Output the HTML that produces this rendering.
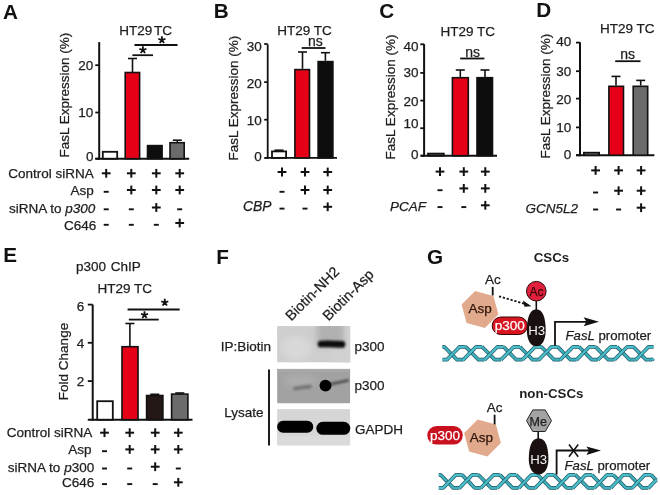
<!DOCTYPE html>
<html><head><meta charset="utf-8"><style>
html,body{margin:0;padding:0;background:#fff;}
svg{display:block;font-family:"Liberation Sans", sans-serif;will-change:transform;}
</style></head><body>
<svg width="660" height="495" viewBox="0 0 660 495">
<rect width="660" height="495" fill="#fff"/>
<text x="3" y="18.7" font-size="20.7" text-anchor="start" font-weight="bold" font-style="normal" fill="#111" stroke="#111" stroke-width="0" >A</text>
<text x="213.7" y="18.4" font-size="20.7" text-anchor="start" font-weight="bold" font-style="normal" fill="#111" stroke="#111" stroke-width="0" >B</text>
<text x="379.2" y="18.3" font-size="20.7" text-anchor="start" font-weight="bold" font-style="normal" fill="#111" stroke="#111" stroke-width="0" >C</text>
<text x="536.2" y="16.5" font-size="20.7" text-anchor="start" font-weight="bold" font-style="normal" fill="#111" stroke="#111" stroke-width="0" >D</text>
<text x="3.3" y="261.9" font-size="20.7" text-anchor="start" font-weight="bold" font-style="normal" fill="#111" stroke="#111" stroke-width="0" >E</text>
<text x="216.2" y="263.9" font-size="20.7" text-anchor="start" font-weight="bold" font-style="normal" fill="#111" stroke="#111" stroke-width="0" >F</text>
<text x="426.9" y="263.5" font-size="20.7" text-anchor="start" font-weight="bold" font-style="normal" fill="#111" stroke="#111" stroke-width="0" >G</text>
<line x1="99.2" y1="42.1" x2="99.2" y2="159.7" stroke="#111" stroke-width="2"/>
<line x1="95.3" y1="158.7" x2="189.2" y2="158.7" stroke="#111" stroke-width="2"/>
<line x1="95.3" y1="65.2" x2="99.2" y2="65.2" stroke="#111" stroke-width="1.8"/>
<text x="93.4" y="69.6" font-size="13.5" text-anchor="end" font-weight="normal" font-style="normal" fill="#1e1e1e" stroke="#1e1e1e" stroke-width="0.25" >20</text>
<line x1="95.3" y1="112.5" x2="99.2" y2="112.5" stroke="#111" stroke-width="1.8"/>
<text x="93.4" y="117.1" font-size="13.5" text-anchor="end" font-weight="normal" font-style="normal" fill="#1e1e1e" stroke="#1e1e1e" stroke-width="0.25" >10</text>
<line x1="95.3" y1="158.7" x2="99.2" y2="158.7" stroke="#111" stroke-width="1.8"/>
<text x="93.4" y="161.1" font-size="13.5" text-anchor="end" font-weight="normal" font-style="normal" fill="#1e1e1e" stroke="#1e1e1e" stroke-width="0.25" >0</text>
<rect x="102.80" y="151.80" width="14.40" height="6.90" fill="#fff" stroke="#111" stroke-width="1.8"/>
<line x1="132.5" y1="58.5" x2="132.5" y2="72" stroke="#111" stroke-width="1.6"/>
<line x1="128.0" y1="58.5" x2="137.0" y2="58.5" stroke="#111" stroke-width="1.6"/>
<rect x="125.20" y="72.50" width="14.40" height="86.20" fill="#e50018" stroke="#111" stroke-width="1.6"/>
<rect x="147.50" y="145.60" width="14.60" height="13.10" fill="#0d0d0d" stroke="#111" stroke-width="1.6"/>
<line x1="177.3" y1="140.2" x2="177.3" y2="142" stroke="#111" stroke-width="1.6"/>
<line x1="172.8" y1="140.2" x2="181.8" y2="140.2" stroke="#111" stroke-width="1.6"/>
<rect x="170.00" y="142.70" width="14.20" height="16.00" fill="#6b6b6b" stroke="#111" stroke-width="1.6"/>
<line x1="134.5" y1="45" x2="177.5" y2="45" stroke="#111" stroke-width="1.8"/>
<line x1="132.4" y1="55.2" x2="153" y2="55.2" stroke="#111" stroke-width="1.8"/>
<path d="M161.90,40.00 L161.90,36.30 M161.90,40.00 L165.42,38.86 M161.90,40.00 L164.07,42.99 M161.90,40.00 L159.73,42.99 M161.90,40.00 L158.38,38.86 " stroke="#111" stroke-width="1.8" fill="none" stroke-linecap="butt"/>
<path d="M142.90,50.00 L142.90,46.30 M142.90,50.00 L146.42,48.86 M142.90,50.00 L145.07,52.99 M142.90,50.00 L140.73,52.99 M142.90,50.00 L139.38,48.86 " stroke="#111" stroke-width="1.8" fill="none" stroke-linecap="butt"/>
<text x="119.2" y="35.3" font-size="13.5" text-anchor="start" font-weight="normal" font-style="normal" fill="#1e1e1e" stroke="#1e1e1e" stroke-width="0.25" >HT29</text>
<text x="172" y="35.3" font-size="13.5" text-anchor="end" font-weight="normal" font-style="normal" fill="#1e1e1e" stroke="#1e1e1e" stroke-width="0.25" >TC</text>
<text x="0" y="0" font-size="13.5" text-anchor="middle" fill="#1e1e1e" stroke="#1e1e1e" stroke-width="0.25" transform="translate(69,95.2) rotate(-90)">FasL Expression (%)</text>
<text x="93.7" y="177.8" font-size="13.5" text-anchor="end" font-weight="normal" font-style="normal" fill="#1e1e1e" stroke="#1e1e1e" stroke-width="0.25" >Control siRNA</text>
<text x="93.7" y="194.7" font-size="13.5" text-anchor="end" font-weight="normal" font-style="normal" fill="#1e1e1e" stroke="#1e1e1e" stroke-width="0.25" >Asp</text>
<text x="96.3" y="229.5" font-size="13.5" text-anchor="end" font-weight="normal" font-style="normal" fill="#1e1e1e" stroke="#1e1e1e" stroke-width="0.25" >C646</text>
<text x="95.3" y="213.3" font-size="13.5" text-anchor="end" font-weight="normal" font-style="normal" fill="#1e1e1e" stroke="#1e1e1e" stroke-width="0.25" >siRNA to <tspan font-style="italic">p300</tspan></text>
<line x1="101.8" y1="173.3" x2="110.60000000000001" y2="173.3" stroke="#111" stroke-width="2.0"/>
<line x1="106.2" y1="168.9" x2="106.2" y2="177.70000000000002" stroke="#111" stroke-width="2.0"/>
<line x1="126.9" y1="173.3" x2="135.70000000000002" y2="173.3" stroke="#111" stroke-width="2.0"/>
<line x1="131.3" y1="168.9" x2="131.3" y2="177.70000000000002" stroke="#111" stroke-width="2.0"/>
<line x1="151.9" y1="173.3" x2="160.70000000000002" y2="173.3" stroke="#111" stroke-width="2.0"/>
<line x1="156.3" y1="168.9" x2="156.3" y2="177.70000000000002" stroke="#111" stroke-width="2.0"/>
<line x1="175.29999999999998" y1="173.3" x2="184.1" y2="173.3" stroke="#111" stroke-width="2.0"/>
<line x1="179.7" y1="168.9" x2="179.7" y2="177.70000000000002" stroke="#111" stroke-width="2.0"/>
<line x1="103.7" y1="191.8" x2="108.7" y2="191.8" stroke="#111" stroke-width="1.9"/>
<line x1="126.9" y1="190" x2="135.70000000000002" y2="190" stroke="#111" stroke-width="2.0"/>
<line x1="131.3" y1="185.6" x2="131.3" y2="194.4" stroke="#111" stroke-width="2.0"/>
<line x1="151.9" y1="190" x2="160.70000000000002" y2="190" stroke="#111" stroke-width="2.0"/>
<line x1="156.3" y1="185.6" x2="156.3" y2="194.4" stroke="#111" stroke-width="2.0"/>
<line x1="175.29999999999998" y1="190" x2="184.1" y2="190" stroke="#111" stroke-width="2.0"/>
<line x1="179.7" y1="185.6" x2="179.7" y2="194.4" stroke="#111" stroke-width="2.0"/>
<line x1="103.7" y1="209.3" x2="108.7" y2="209.3" stroke="#111" stroke-width="1.9"/>
<line x1="128.8" y1="209.3" x2="133.8" y2="209.3" stroke="#111" stroke-width="1.9"/>
<line x1="151.9" y1="207.5" x2="160.70000000000002" y2="207.5" stroke="#111" stroke-width="2.0"/>
<line x1="156.3" y1="203.1" x2="156.3" y2="211.9" stroke="#111" stroke-width="2.0"/>
<line x1="177.2" y1="209.3" x2="182.2" y2="209.3" stroke="#111" stroke-width="1.9"/>
<line x1="103.7" y1="224.8" x2="108.7" y2="224.8" stroke="#111" stroke-width="1.9"/>
<line x1="128.8" y1="224.8" x2="133.8" y2="224.8" stroke="#111" stroke-width="1.9"/>
<line x1="153.8" y1="224.8" x2="158.8" y2="224.8" stroke="#111" stroke-width="1.9"/>
<line x1="175.29999999999998" y1="223" x2="184.1" y2="223" stroke="#111" stroke-width="2.0"/>
<line x1="179.7" y1="218.6" x2="179.7" y2="227.4" stroke="#111" stroke-width="2.0"/>
<line x1="267.7" y1="44.3" x2="267.7" y2="158.70000000000002" stroke="#111" stroke-width="1.8"/>
<line x1="265" y1="157.9" x2="337" y2="157.9" stroke="#111" stroke-width="1.8"/>
<line x1="264.2" y1="44" x2="267.7" y2="44" stroke="#111" stroke-width="1.8"/>
<text x="261.8" y="50.9" font-size="13.5" text-anchor="end" font-weight="normal" font-style="normal" fill="#1e1e1e" stroke="#1e1e1e" stroke-width="0.25" >30</text>
<line x1="264.2" y1="82.1" x2="267.7" y2="82.1" stroke="#111" stroke-width="1.8"/>
<text x="261.8" y="87.9" font-size="13.5" text-anchor="end" font-weight="normal" font-style="normal" fill="#1e1e1e" stroke="#1e1e1e" stroke-width="0.25" >20</text>
<line x1="264.2" y1="119.7" x2="267.7" y2="119.7" stroke="#111" stroke-width="1.8"/>
<text x="261.8" y="124.8" font-size="13.5" text-anchor="end" font-weight="normal" font-style="normal" fill="#1e1e1e" stroke="#1e1e1e" stroke-width="0.25" >10</text>
<line x1="264.2" y1="157.9" x2="267.7" y2="157.9" stroke="#111" stroke-width="1.8"/>
<text x="261.8" y="161" font-size="13.5" text-anchor="end" font-weight="normal" font-style="normal" fill="#1e1e1e" stroke="#1e1e1e" stroke-width="0.25" >0</text>
<line x1="279" y1="150.2" x2="279" y2="151" stroke="#111" stroke-width="1.6"/>
<line x1="274.5" y1="150.2" x2="283.5" y2="150.2" stroke="#111" stroke-width="1.6"/>
<rect x="272.00" y="151.40" width="14.10" height="6.50" fill="#fff" stroke="#111" stroke-width="1.8"/>
<line x1="302.5" y1="52" x2="302.5" y2="68.8" stroke="#111" stroke-width="1.6"/>
<line x1="298.0" y1="52" x2="307.0" y2="52" stroke="#111" stroke-width="1.6"/>
<rect x="294.90" y="69.60" width="14.60" height="88.30" fill="#e50018" stroke="#111" stroke-width="1.6"/>
<line x1="325.4" y1="52.7" x2="325.4" y2="60.8" stroke="#111" stroke-width="1.6"/>
<line x1="320.9" y1="52.7" x2="329.9" y2="52.7" stroke="#111" stroke-width="1.6"/>
<rect x="318.10" y="61.60" width="14.80" height="96.30" fill="#0d0d0d" stroke="#111" stroke-width="1.6"/>
<text x="315.4" y="45.6" font-size="14" text-anchor="middle" font-weight="normal" font-style="normal" fill="#1e1e1e" stroke="#1e1e1e" stroke-width="0.25" >ns</text>
<line x1="301.7" y1="48" x2="325.5" y2="48" stroke="#111" stroke-width="1.8"/>
<text x="277.2" y="35.3" font-size="13.5" text-anchor="start" font-weight="normal" font-style="normal" fill="#1e1e1e" stroke="#1e1e1e" stroke-width="0.25" >HT29 TC</text>
<text x="0" y="0" font-size="13.5" text-anchor="middle" fill="#1e1e1e" stroke="#1e1e1e" stroke-width="0.25" transform="translate(238.3,98.2) rotate(-90)">FasL Expression (%)</text>
<line x1="277.6" y1="172" x2="286.4" y2="172" stroke="#111" stroke-width="2.0"/>
<line x1="282" y1="167.6" x2="282" y2="176.4" stroke="#111" stroke-width="2.0"/>
<line x1="300.6" y1="172" x2="309.4" y2="172" stroke="#111" stroke-width="2.0"/>
<line x1="305" y1="167.6" x2="305" y2="176.4" stroke="#111" stroke-width="2.0"/>
<line x1="323.3" y1="172" x2="332.09999999999997" y2="172" stroke="#111" stroke-width="2.0"/>
<line x1="327.7" y1="167.6" x2="327.7" y2="176.4" stroke="#111" stroke-width="2.0"/>
<line x1="279.5" y1="191.8" x2="284.5" y2="191.8" stroke="#111" stroke-width="1.9"/>
<line x1="300.6" y1="190" x2="309.4" y2="190" stroke="#111" stroke-width="2.0"/>
<line x1="305" y1="185.6" x2="305" y2="194.4" stroke="#111" stroke-width="2.0"/>
<line x1="323.3" y1="190" x2="332.09999999999997" y2="190" stroke="#111" stroke-width="2.0"/>
<line x1="327.7" y1="185.6" x2="327.7" y2="194.4" stroke="#111" stroke-width="2.0"/>
<line x1="279.5" y1="208.60000000000002" x2="284.5" y2="208.60000000000002" stroke="#111" stroke-width="1.9"/>
<line x1="302.5" y1="208.60000000000002" x2="307.5" y2="208.60000000000002" stroke="#111" stroke-width="1.9"/>
<line x1="323.3" y1="206.8" x2="332.09999999999997" y2="206.8" stroke="#111" stroke-width="2.0"/>
<line x1="327.7" y1="202.4" x2="327.7" y2="211.20000000000002" stroke="#111" stroke-width="2.0"/>
<text x="271.5" y="210.5" font-size="13.9" text-anchor="end" font-weight="normal" font-style="italic" fill="#1e1e1e" stroke="#1e1e1e" stroke-width="0.25" >CBP</text>
<line x1="424.1" y1="44.1" x2="424.1" y2="156.7" stroke="#111" stroke-width="2"/>
<line x1="420.8" y1="155.7" x2="497" y2="155.7" stroke="#111" stroke-width="2"/>
<line x1="420.3" y1="44.3" x2="424.1" y2="44.3" stroke="#111" stroke-width="1.8"/>
<text x="418.5" y="50.5" font-size="13.5" text-anchor="end" font-weight="normal" font-style="normal" fill="#1e1e1e" stroke="#1e1e1e" stroke-width="0.25" >40</text>
<line x1="420.3" y1="72.9" x2="424.1" y2="72.9" stroke="#111" stroke-width="1.8"/>
<text x="418.5" y="77.4" font-size="13.5" text-anchor="end" font-weight="normal" font-style="normal" fill="#1e1e1e" stroke="#1e1e1e" stroke-width="0.25" >30</text>
<line x1="420.3" y1="100.6" x2="424.1" y2="100.6" stroke="#111" stroke-width="1.8"/>
<text x="418.5" y="105.5" font-size="13.5" text-anchor="end" font-weight="normal" font-style="normal" fill="#1e1e1e" stroke="#1e1e1e" stroke-width="0.25" >20</text>
<line x1="420.3" y1="128.2" x2="424.1" y2="128.2" stroke="#111" stroke-width="1.8"/>
<text x="418.5" y="128.2" font-size="13.5" text-anchor="end" font-weight="normal" font-style="normal" fill="#1e1e1e" stroke="#1e1e1e" stroke-width="0.25" >10</text>
<line x1="420.3" y1="155.7" x2="424.1" y2="155.7" stroke="#111" stroke-width="1.8"/>
<text x="418.5" y="158.9" font-size="13.5" text-anchor="end" font-weight="normal" font-style="normal" fill="#1e1e1e" stroke="#1e1e1e" stroke-width="0.25" >0</text>
<rect x="428.00" y="153.60" width="15.80" height="2.10" fill="#8a8a8a" stroke="#111" stroke-width="1.8"/>
<line x1="460.3" y1="70" x2="460.3" y2="76.9" stroke="#111" stroke-width="1.6"/>
<line x1="455.8" y1="70" x2="464.8" y2="70" stroke="#111" stroke-width="1.6"/>
<rect x="452.40" y="77.70" width="15.90" height="78.00" fill="#e50018" stroke="#111" stroke-width="1.6"/>
<line x1="485" y1="70" x2="485" y2="76.9" stroke="#111" stroke-width="1.6"/>
<line x1="480.5" y1="70" x2="489.5" y2="70" stroke="#111" stroke-width="1.6"/>
<rect x="477.00" y="77.70" width="15.50" height="78.00" fill="#0d0d0d" stroke="#111" stroke-width="1.6"/>
<text x="472.6" y="56.7" font-size="14" text-anchor="middle" font-weight="normal" font-style="normal" fill="#1e1e1e" stroke="#1e1e1e" stroke-width="0.25" >ns</text>
<line x1="460.2" y1="58.5" x2="484.4" y2="58.5" stroke="#111" stroke-width="1.8"/>
<text x="440.6" y="36.2" font-size="13.5" text-anchor="start" font-weight="normal" font-style="normal" fill="#1e1e1e" stroke="#1e1e1e" stroke-width="0.25" >HT29 TC</text>
<text x="0" y="0" font-size="13.5" text-anchor="middle" fill="#1e1e1e" stroke="#1e1e1e" stroke-width="0.25" transform="translate(395.1,97) rotate(-90)">FasL Expression (%)</text>
<line x1="435.6" y1="171.6" x2="444.4" y2="171.6" stroke="#111" stroke-width="2.0"/>
<line x1="440" y1="167.2" x2="440" y2="176.0" stroke="#111" stroke-width="2.0"/>
<line x1="459.40000000000003" y1="171.6" x2="468.2" y2="171.6" stroke="#111" stroke-width="2.0"/>
<line x1="463.8" y1="167.2" x2="463.8" y2="176.0" stroke="#111" stroke-width="2.0"/>
<line x1="480.90000000000003" y1="171.6" x2="489.7" y2="171.6" stroke="#111" stroke-width="2.0"/>
<line x1="485.3" y1="167.2" x2="485.3" y2="176.0" stroke="#111" stroke-width="2.0"/>
<line x1="437.5" y1="190.20000000000002" x2="442.5" y2="190.20000000000002" stroke="#111" stroke-width="1.9"/>
<line x1="459.40000000000003" y1="188.4" x2="468.2" y2="188.4" stroke="#111" stroke-width="2.0"/>
<line x1="463.8" y1="184.0" x2="463.8" y2="192.8" stroke="#111" stroke-width="2.0"/>
<line x1="480.90000000000003" y1="188.4" x2="489.7" y2="188.4" stroke="#111" stroke-width="2.0"/>
<line x1="485.3" y1="184.0" x2="485.3" y2="192.8" stroke="#111" stroke-width="2.0"/>
<line x1="437.5" y1="207.10000000000002" x2="442.5" y2="207.10000000000002" stroke="#111" stroke-width="1.9"/>
<line x1="461.3" y1="207.10000000000002" x2="466.3" y2="207.10000000000002" stroke="#111" stroke-width="1.9"/>
<line x1="480.90000000000003" y1="205.3" x2="489.7" y2="205.3" stroke="#111" stroke-width="2.0"/>
<line x1="485.3" y1="200.9" x2="485.3" y2="209.70000000000002" stroke="#111" stroke-width="2.0"/>
<text x="426" y="210.9" font-size="13.5" text-anchor="end" font-weight="normal" font-style="italic" fill="#1e1e1e" stroke="#1e1e1e" stroke-width="0.25" >PCAF</text>
<line x1="580" y1="42.3" x2="580" y2="156.2" stroke="#111" stroke-width="2"/>
<line x1="576" y1="155.2" x2="654.4" y2="155.2" stroke="#111" stroke-width="2"/>
<line x1="576" y1="42.6" x2="580" y2="42.6" stroke="#111" stroke-width="1.8"/>
<text x="571.2" y="46.4" font-size="13.5" text-anchor="end" font-weight="normal" font-style="normal" fill="#1e1e1e" stroke="#1e1e1e" stroke-width="0.25" >40</text>
<line x1="576" y1="71.2" x2="580" y2="71.2" stroke="#111" stroke-width="1.8"/>
<text x="571.2" y="76.3" font-size="13.5" text-anchor="end" font-weight="normal" font-style="normal" fill="#1e1e1e" stroke="#1e1e1e" stroke-width="0.25" >30</text>
<line x1="576" y1="98.6" x2="580" y2="98.6" stroke="#111" stroke-width="1.8"/>
<text x="571.2" y="104.3" font-size="13.5" text-anchor="end" font-weight="normal" font-style="normal" fill="#1e1e1e" stroke="#1e1e1e" stroke-width="0.25" >20</text>
<line x1="576" y1="127.4" x2="580" y2="127.4" stroke="#111" stroke-width="1.8"/>
<text x="571.2" y="131.7" font-size="13.5" text-anchor="end" font-weight="normal" font-style="normal" fill="#1e1e1e" stroke="#1e1e1e" stroke-width="0.25" >10</text>
<line x1="576" y1="155.2" x2="580" y2="155.2" stroke="#111" stroke-width="1.8"/>
<text x="571.2" y="159.2" font-size="13.5" text-anchor="end" font-weight="normal" font-style="normal" fill="#1e1e1e" stroke="#1e1e1e" stroke-width="0.25" >0</text>
<rect x="583.90" y="152.70" width="15.20" height="2.50" fill="#8a8a8a" stroke="#111" stroke-width="1.8"/>
<line x1="616" y1="76.4" x2="616" y2="85.5" stroke="#111" stroke-width="1.6"/>
<line x1="611.5" y1="76.4" x2="620.5" y2="76.4" stroke="#111" stroke-width="1.6"/>
<rect x="608.90" y="86.30" width="14.60" height="68.90" fill="#e50018" stroke="#111" stroke-width="1.6"/>
<line x1="640.7" y1="80.4" x2="640.7" y2="85.5" stroke="#111" stroke-width="1.6"/>
<line x1="636.2" y1="80.4" x2="645.2" y2="80.4" stroke="#111" stroke-width="1.6"/>
<rect x="633.20" y="86.30" width="14.50" height="68.90" fill="#6b6b6b" stroke="#111" stroke-width="1.6"/>
<text x="627.6" y="58.7" font-size="14" text-anchor="middle" font-weight="normal" font-style="normal" fill="#1e1e1e" stroke="#1e1e1e" stroke-width="0.25" >ns</text>
<line x1="615.2" y1="61.2" x2="640.5" y2="61.2" stroke="#111" stroke-width="1.8"/>
<text x="600" y="32.5" font-size="13.5" text-anchor="start" font-weight="normal" font-style="normal" fill="#1e1e1e" stroke="#1e1e1e" stroke-width="0.25" >HT29 TC</text>
<text x="0" y="0" font-size="13.5" text-anchor="middle" fill="#1e1e1e" stroke="#1e1e1e" stroke-width="0.25" transform="translate(550.1,96.1) rotate(-90)">FasL Expression (%)</text>
<line x1="591.2" y1="170.4" x2="600.0" y2="170.4" stroke="#111" stroke-width="2.0"/>
<line x1="595.6" y1="166.0" x2="595.6" y2="174.8" stroke="#111" stroke-width="2.0"/>
<line x1="614.2" y1="170.4" x2="623.0" y2="170.4" stroke="#111" stroke-width="2.0"/>
<line x1="618.6" y1="166.0" x2="618.6" y2="174.8" stroke="#111" stroke-width="2.0"/>
<line x1="636.7" y1="170.4" x2="645.5" y2="170.4" stroke="#111" stroke-width="2.0"/>
<line x1="641.1" y1="166.0" x2="641.1" y2="174.8" stroke="#111" stroke-width="2.0"/>
<line x1="593.1" y1="192.5" x2="598.1" y2="192.5" stroke="#111" stroke-width="1.9"/>
<line x1="614.2" y1="190.7" x2="623.0" y2="190.7" stroke="#111" stroke-width="2.0"/>
<line x1="618.6" y1="186.29999999999998" x2="618.6" y2="195.1" stroke="#111" stroke-width="2.0"/>
<line x1="636.7" y1="190.7" x2="645.5" y2="190.7" stroke="#111" stroke-width="2.0"/>
<line x1="641.1" y1="186.29999999999998" x2="641.1" y2="195.1" stroke="#111" stroke-width="2.0"/>
<line x1="593.1" y1="209.5" x2="598.1" y2="209.5" stroke="#111" stroke-width="1.9"/>
<line x1="616.1" y1="209.5" x2="621.1" y2="209.5" stroke="#111" stroke-width="1.9"/>
<line x1="636.7" y1="207.7" x2="645.5" y2="207.7" stroke="#111" stroke-width="2.0"/>
<line x1="641.1" y1="203.29999999999998" x2="641.1" y2="212.1" stroke="#111" stroke-width="2.0"/>
<text x="578.1" y="213.2" font-size="13.5" text-anchor="end" font-weight="normal" font-style="italic" fill="#1e1e1e" stroke="#1e1e1e" stroke-width="0.25" >GCN5L2</text>
<line x1="92.7" y1="304.6" x2="92.7" y2="420.7" stroke="#111" stroke-width="2"/>
<line x1="87.8" y1="419.7" x2="192.5" y2="419.7" stroke="#111" stroke-width="2"/>
<line x1="87.8" y1="304.6" x2="92.7" y2="304.6" stroke="#111" stroke-width="1.8"/>
<text x="84.3" y="310.7" font-size="13.5" text-anchor="end" font-weight="normal" font-style="normal" fill="#1e1e1e" stroke="#1e1e1e" stroke-width="0.25" >6</text>
<line x1="87.8" y1="342.8" x2="92.7" y2="342.8" stroke="#111" stroke-width="1.8"/>
<text x="84.3" y="347.9" font-size="13.5" text-anchor="end" font-weight="normal" font-style="normal" fill="#1e1e1e" stroke="#1e1e1e" stroke-width="0.25" >4</text>
<line x1="87.8" y1="381.1" x2="92.7" y2="381.1" stroke="#111" stroke-width="1.8"/>
<text x="84.3" y="385.6" font-size="13.5" text-anchor="end" font-weight="normal" font-style="normal" fill="#1e1e1e" stroke="#1e1e1e" stroke-width="0.25" >2</text>
<rect x="97.20" y="401.20" width="15.60" height="18.50" fill="#fff" stroke="#111" stroke-width="1.8"/>
<line x1="129.9" y1="323.5" x2="129.9" y2="346" stroke="#111" stroke-width="1.6"/>
<line x1="125.4" y1="323.5" x2="134.4" y2="323.5" stroke="#111" stroke-width="1.6"/>
<rect x="122.00" y="346.70" width="16.00" height="73.00" fill="#e50018" stroke="#111" stroke-width="1.6"/>
<line x1="154.8" y1="394.3" x2="154.8" y2="395.8" stroke="#111" stroke-width="1.6"/>
<line x1="150.3" y1="394.3" x2="159.3" y2="394.3" stroke="#111" stroke-width="1.6"/>
<rect x="146.60" y="395.50" width="16.30" height="24.20" fill="#231815" stroke="#111" stroke-width="1.6"/>
<line x1="179.8" y1="393" x2="179.8" y2="394.5" stroke="#111" stroke-width="1.6"/>
<line x1="175.3" y1="393" x2="184.3" y2="393" stroke="#111" stroke-width="1.6"/>
<rect x="171.60" y="394.10" width="16.30" height="25.60" fill="#6b6b6b" stroke="#111" stroke-width="1.6"/>
<line x1="127.6" y1="309.5" x2="179.7" y2="309.5" stroke="#111" stroke-width="1.8"/>
<line x1="128.8" y1="319.6" x2="158.7" y2="319.6" stroke="#111" stroke-width="1.8"/>
<path d="M164.80,302.50 L164.80,298.80 M164.80,302.50 L168.32,301.36 M164.80,302.50 L166.97,305.49 M164.80,302.50 L162.63,305.49 M164.80,302.50 L161.28,301.36 " stroke="#111" stroke-width="1.8" fill="none" stroke-linecap="butt"/>
<path d="M144.50,315.00 L144.50,311.30 M144.50,315.00 L148.02,313.86 M144.50,315.00 L146.67,317.99 M144.50,315.00 L142.33,317.99 M144.50,315.00 L140.98,313.86 " stroke="#111" stroke-width="1.8" fill="none" stroke-linecap="butt"/>
<text x="76" y="270.7" font-size="13.5" text-anchor="start" font-weight="normal" font-style="normal" fill="#1e1e1e" stroke="#1e1e1e" stroke-width="0.25" >p300</text>
<text x="110.8" y="270.7" font-size="13.5" text-anchor="start" font-weight="normal" font-style="normal" fill="#1e1e1e" stroke="#1e1e1e" stroke-width="0.25" >ChIP</text>
<text x="97.6" y="293.2" font-size="13.5" text-anchor="start" font-weight="normal" font-style="normal" fill="#1e1e1e" stroke="#1e1e1e" stroke-width="0.25" >HT29 TC</text>
<text x="0" y="0" font-size="13.5" text-anchor="middle" fill="#1e1e1e" stroke="#1e1e1e" stroke-width="0.25" transform="translate(68.3,361.5) rotate(-90)">Fold Change</text>
<text x="92.2" y="437" font-size="13.5" text-anchor="end" font-weight="normal" font-style="normal" fill="#1e1e1e" stroke="#1e1e1e" stroke-width="0.25" >Control siRNA</text>
<text x="91.5" y="453.6" font-size="13.5" text-anchor="end" font-weight="normal" font-style="normal" fill="#1e1e1e" stroke="#1e1e1e" stroke-width="0.25" >Asp</text>
<text x="94.2" y="472.3" font-size="13.5" text-anchor="end" font-weight="normal" font-style="normal" fill="#1e1e1e" stroke="#1e1e1e" stroke-width="0.25" >siRNA to <tspan font-style="italic">p</tspan>300</text>
<text x="94.4" y="487.4" font-size="13.5" text-anchor="end" font-weight="normal" font-style="normal" fill="#1e1e1e" stroke="#1e1e1e" stroke-width="0.25" >C646</text>
<line x1="100.1" y1="432.7" x2="108.9" y2="432.7" stroke="#111" stroke-width="2.0"/>
<line x1="104.5" y1="428.3" x2="104.5" y2="437.09999999999997" stroke="#111" stroke-width="2.0"/>
<line x1="125.29999999999998" y1="432.7" x2="134.1" y2="432.7" stroke="#111" stroke-width="2.0"/>
<line x1="129.7" y1="428.3" x2="129.7" y2="437.09999999999997" stroke="#111" stroke-width="2.0"/>
<line x1="150.79999999999998" y1="432.7" x2="159.6" y2="432.7" stroke="#111" stroke-width="2.0"/>
<line x1="155.2" y1="428.3" x2="155.2" y2="437.09999999999997" stroke="#111" stroke-width="2.0"/>
<line x1="173.9" y1="432.7" x2="182.70000000000002" y2="432.7" stroke="#111" stroke-width="2.0"/>
<line x1="178.3" y1="428.3" x2="178.3" y2="437.09999999999997" stroke="#111" stroke-width="2.0"/>
<line x1="102.0" y1="451.2" x2="107.0" y2="451.2" stroke="#111" stroke-width="1.9"/>
<line x1="125.29999999999998" y1="449.4" x2="134.1" y2="449.4" stroke="#111" stroke-width="2.0"/>
<line x1="129.7" y1="445.0" x2="129.7" y2="453.79999999999995" stroke="#111" stroke-width="2.0"/>
<line x1="150.79999999999998" y1="449.4" x2="159.6" y2="449.4" stroke="#111" stroke-width="2.0"/>
<line x1="155.2" y1="445.0" x2="155.2" y2="453.79999999999995" stroke="#111" stroke-width="2.0"/>
<line x1="173.9" y1="449.4" x2="182.70000000000002" y2="449.4" stroke="#111" stroke-width="2.0"/>
<line x1="178.3" y1="445.0" x2="178.3" y2="453.79999999999995" stroke="#111" stroke-width="2.0"/>
<line x1="102.0" y1="468.5" x2="107.0" y2="468.5" stroke="#111" stroke-width="1.9"/>
<line x1="127.19999999999999" y1="468.5" x2="132.2" y2="468.5" stroke="#111" stroke-width="1.9"/>
<line x1="150.79999999999998" y1="466.7" x2="159.6" y2="466.7" stroke="#111" stroke-width="2.0"/>
<line x1="155.2" y1="462.3" x2="155.2" y2="471.09999999999997" stroke="#111" stroke-width="2.0"/>
<line x1="175.8" y1="468.5" x2="180.8" y2="468.5" stroke="#111" stroke-width="1.9"/>
<line x1="102.0" y1="484.1" x2="107.0" y2="484.1" stroke="#111" stroke-width="1.9"/>
<line x1="127.19999999999999" y1="484.1" x2="132.2" y2="484.1" stroke="#111" stroke-width="1.9"/>
<line x1="152.7" y1="484.1" x2="157.7" y2="484.1" stroke="#111" stroke-width="1.9"/>
<line x1="173.9" y1="482.3" x2="182.70000000000002" y2="482.3" stroke="#111" stroke-width="2.0"/>
<line x1="178.3" y1="477.90000000000003" x2="178.3" y2="486.7" stroke="#111" stroke-width="2.0"/>
<defs><filter id="bl" filterUnits="userSpaceOnUse" x="0" y="0" width="660" height="495"><feGaussianBlur stdDeviation="1.1"/></filter><filter id="bl2" filterUnits="userSpaceOnUse" x="0" y="0" width="660" height="495"><feGaussianBlur stdDeviation="0.7"/></filter><filter id="bl3" filterUnits="userSpaceOnUse" x="0" y="0" width="660" height="495"><feGaussianBlur stdDeviation="3"/></filter><clipPath id="c1"><rect x="277.1" y="326.1" width="73.2" height="36.5"/></clipPath><clipPath id="c2"><rect x="277.1" y="368.8" width="73.2" height="34.7"/></clipPath><clipPath id="c3"><rect x="277.1" y="409.1" width="73.2" height="36.3"/></clipPath></defs>
<g clip-path="url(#c1)"><rect x="277.1" y="326.1" width="73.2" height="36.5" fill="#cecece"/><ellipse cx="296" cy="348" rx="15" ry="12" fill="#d8d8d8" filter="url(#bl3)"/><rect x="317" y="322" width="28" height="24" fill="#b0b0b0" filter="url(#bl3)"/><rect x="346" y="322" width="8" height="45" fill="#d2d2d2" filter="url(#bl3)"/><ellipse cx="340" cy="356" rx="12" ry="6" fill="#d2d2d2" filter="url(#bl3)"/><ellipse cx="281" cy="330" rx="6" ry="5" fill="#d0d0d0" filter="url(#bl3)"/></g>
<path d="M321 344 Q331 343.6 342 344.4" stroke="#0a0a0a" stroke-width="6.6" stroke-linecap="round" fill="none" filter="url(#bl)"/>
<g clip-path="url(#c2)"><rect x="277.1" y="368.8" width="73.2" height="34.7" fill="#a2a2a2"/><ellipse cx="300" cy="381" rx="16" ry="7" fill="#acacac" filter="url(#bl3)"/><rect x="277.1" y="368.8" width="73.2" height="3" fill="#a8a8a8" filter="url(#bl2)"/></g>
<path d="M295 388.5 L310 386.5" stroke="#777" stroke-width="3.8" stroke-linecap="round" fill="none" filter="url(#bl)"/>
<path d="M327 385 L347.5 380.5" stroke="#555" stroke-width="3.0" stroke-linecap="round" fill="none" filter="url(#bl)"/>
<ellipse cx="325.5" cy="385.6" rx="6" ry="5.8" fill="#050505" filter="url(#bl2)"/>
<g clip-path="url(#c3)"><rect x="277.1" y="409.1" width="73.2" height="36.3" fill="#d6d6d6"/><rect x="277.1" y="436" width="73.2" height="10" fill="#dadada" filter="url(#bl2)"/></g>
<rect x="277.1" y="420.8" width="36.2" height="12" rx="6" fill="#060606" filter="url(#bl2)"/>
<rect x="316.3" y="421.8" width="34" height="13" rx="6.5" fill="#060606" filter="url(#bl2)"/>
<line x1="269" y1="369.5" x2="269" y2="445.4" stroke="#111" stroke-width="1.9"/>
<text x="271" y="351.3" font-size="13.5" text-anchor="end" font-weight="normal" font-style="normal" fill="#1e1e1e" stroke="#1e1e1e" stroke-width="0.25" >IP:Biotin</text>
<text x="263.5" y="417" font-size="13.5" text-anchor="end" font-weight="normal" font-style="normal" fill="#1e1e1e" stroke="#1e1e1e" stroke-width="0.25" >Lysate</text>
<text x="354.5" y="351" font-size="13.5" text-anchor="start" font-weight="normal" font-style="normal" fill="#1e1e1e" stroke="#1e1e1e" stroke-width="0.25" >p300</text>
<text x="354.5" y="389.8" font-size="13.5" text-anchor="start" font-weight="normal" font-style="normal" fill="#1e1e1e" stroke="#1e1e1e" stroke-width="0.25" >p300</text>
<text x="355" y="433.5" font-size="13.5" text-anchor="start" font-weight="normal" font-style="normal" fill="#1e1e1e" stroke="#1e1e1e" stroke-width="0.25" >GAPDH</text>
<text x="0" y="0" font-size="14.3" fill="#1e1e1e" stroke="#1e1e1e" stroke-width="0.25" transform="translate(291.3,321.5) rotate(-45)">Biotin-NH2</text>
<text x="0" y="0" font-size="14.3" fill="#1e1e1e" stroke="#1e1e1e" stroke-width="0.25" transform="translate(328.5,321.5) rotate(-45)">Biotin-Asp</text>
<path d="M442.50,346.90 L443.00,346.90 L443.50,346.90 L444.00,346.90 L444.50,347.00 L445.00,347.51 L445.50,348.02 L446.00,348.53 L446.50,349.03 L447.00,349.54 L447.50,350.05 L448.00,350.56 L448.50,351.07 L449.00,351.57 L449.50,352.08 L450.00,352.59 L450.50,353.10 L451.00,353.60 L451.50,354.11 L452.00,354.62 L452.50,355.13 L453.00,355.64 L453.50,356.14 L454.00,356.65 L454.50,357.16 L455.00,357.67 L455.50,358.18 L456.00,358.68 L456.50,359.19 L457.00,359.70 L457.50,359.70 L458.00,359.70 L458.50,359.70 L459.00,359.70 L459.50,359.70 L460.00,359.70 L460.50,359.70 L461.00,359.70 L461.50,359.70 L462.00,359.70 L462.50,359.70 L463.00,359.70" stroke="#1f5a64" stroke-width="3.7" fill="none" stroke-linejoin="round"/>
<path d="M442.50,346.90 L443.00,346.90 L443.50,346.90 L444.00,346.90 L444.50,347.00 L445.00,347.51 L445.50,348.02 L446.00,348.53 L446.50,349.03 L447.00,349.54 L447.50,350.05 L448.00,350.56 L448.50,351.07 L449.00,351.57 L449.50,352.08 L450.00,352.59 L450.50,353.10 L451.00,353.60 L451.50,354.11 L452.00,354.62 L452.50,355.13 L453.00,355.64 L453.50,356.14 L454.00,356.65 L454.50,357.16 L455.00,357.67 L455.50,358.18 L456.00,358.68 L456.50,359.19 L457.00,359.70 L457.50,359.70 L458.00,359.70 L458.50,359.70 L459.00,359.70 L459.50,359.70 L460.00,359.70 L460.50,359.70 L461.00,359.70 L461.50,359.70 L462.00,359.70 L462.50,359.70 L463.00,359.70" stroke="#40b0be" stroke-width="2.3" fill="none" stroke-linejoin="round"/>
<path d="M482.00,346.90 L482.50,347.20 L483.00,347.71 L483.50,348.22 L484.00,348.73 L484.50,349.24 L485.00,349.74 L485.50,350.25 L486.00,350.76 L486.50,351.27 L487.00,351.78 L487.50,352.28 L488.00,352.79 L488.50,353.30 L489.00,353.81 L489.50,354.32 L490.00,354.82 L490.50,355.33 L491.00,355.84 L491.50,356.35 L492.00,356.86 L492.50,357.36 L493.00,357.87 L493.50,358.38 L494.00,358.89 L494.50,359.40 L495.00,359.70 L495.50,359.70 L496.00,359.70 L496.50,359.70 L497.00,359.70 L497.50,359.70 L498.00,359.70 L498.50,359.70 L499.00,359.70 L499.50,359.70 L500.00,359.70 L500.50,359.70 L501.00,359.70" stroke="#1f5a64" stroke-width="3.7" fill="none" stroke-linejoin="round"/>
<path d="M482.00,346.90 L482.50,347.20 L483.00,347.71 L483.50,348.22 L484.00,348.73 L484.50,349.24 L485.00,349.74 L485.50,350.25 L486.00,350.76 L486.50,351.27 L487.00,351.78 L487.50,352.28 L488.00,352.79 L488.50,353.30 L489.00,353.81 L489.50,354.32 L490.00,354.82 L490.50,355.33 L491.00,355.84 L491.50,356.35 L492.00,356.86 L492.50,357.36 L493.00,357.87 L493.50,358.38 L494.00,358.89 L494.50,359.40 L495.00,359.70 L495.50,359.70 L496.00,359.70 L496.50,359.70 L497.00,359.70 L497.50,359.70 L498.00,359.70 L498.50,359.70 L499.00,359.70 L499.50,359.70 L500.00,359.70 L500.50,359.70 L501.00,359.70" stroke="#40b0be" stroke-width="2.3" fill="none" stroke-linejoin="round"/>
<path d="M520.00,346.90 L520.50,347.41 L521.00,347.92 L521.50,348.42 L522.00,348.93 L522.50,349.44 L523.00,349.95 L523.50,350.46 L524.00,350.96 L524.50,351.47 L525.00,351.98 L525.50,352.49 L526.00,353.00 L526.50,353.50 L527.00,354.01 L527.50,354.52 L528.00,355.03 L528.50,355.53 L529.00,356.04 L529.50,356.55 L530.00,357.06 L530.50,357.57 L531.00,358.07 L531.50,358.58 L532.00,359.09 L532.50,359.60 L533.00,359.70 L533.50,359.70 L534.00,359.70 L534.50,359.70 L535.00,359.70 L535.50,359.70 L536.00,359.70 L536.50,359.70 L537.00,359.70 L537.50,359.70 L538.00,359.70 L538.50,359.70" stroke="#1f5a64" stroke-width="3.7" fill="none" stroke-linejoin="round"/>
<path d="M520.00,346.90 L520.50,347.41 L521.00,347.92 L521.50,348.42 L522.00,348.93 L522.50,349.44 L523.00,349.95 L523.50,350.46 L524.00,350.96 L524.50,351.47 L525.00,351.98 L525.50,352.49 L526.00,353.00 L526.50,353.50 L527.00,354.01 L527.50,354.52 L528.00,355.03 L528.50,355.53 L529.00,356.04 L529.50,356.55 L530.00,357.06 L530.50,357.57 L531.00,358.07 L531.50,358.58 L532.00,359.09 L532.50,359.60 L533.00,359.70 L533.50,359.70 L534.00,359.70 L534.50,359.70 L535.00,359.70 L535.50,359.70 L536.00,359.70 L536.50,359.70 L537.00,359.70 L537.50,359.70 L538.00,359.70 L538.50,359.70" stroke="#40b0be" stroke-width="2.3" fill="none" stroke-linejoin="round"/>
<path d="M557.50,346.90 L558.00,347.10 L558.50,347.61 L559.00,348.12 L559.50,348.63 L560.00,349.13 L560.50,349.64 L561.00,350.15 L561.50,350.66 L562.00,351.17 L562.50,351.67 L563.00,352.18 L563.50,352.69 L564.00,353.20 L564.50,353.71 L565.00,354.21 L565.50,354.72 L566.00,355.23 L566.50,355.74 L567.00,356.25 L567.50,356.75 L568.00,357.26 L568.50,357.77 L569.00,358.28 L569.50,358.79 L570.00,359.29 L570.50,359.70 L571.00,359.70 L571.50,359.70 L572.00,359.70 L572.50,359.70 L573.00,359.70 L573.50,359.70 L574.00,359.70 L574.50,359.70 L575.00,359.70 L575.50,359.70 L576.00,359.70 L576.50,359.70" stroke="#1f5a64" stroke-width="3.7" fill="none" stroke-linejoin="round"/>
<path d="M557.50,346.90 L558.00,347.10 L558.50,347.61 L559.00,348.12 L559.50,348.63 L560.00,349.13 L560.50,349.64 L561.00,350.15 L561.50,350.66 L562.00,351.17 L562.50,351.67 L563.00,352.18 L563.50,352.69 L564.00,353.20 L564.50,353.71 L565.00,354.21 L565.50,354.72 L566.00,355.23 L566.50,355.74 L567.00,356.25 L567.50,356.75 L568.00,357.26 L568.50,357.77 L569.00,358.28 L569.50,358.79 L570.00,359.29 L570.50,359.70 L571.00,359.70 L571.50,359.70 L572.00,359.70 L572.50,359.70 L573.00,359.70 L573.50,359.70 L574.00,359.70 L574.50,359.70 L575.00,359.70 L575.50,359.70 L576.00,359.70 L576.50,359.70" stroke="#40b0be" stroke-width="2.3" fill="none" stroke-linejoin="round"/>
<path d="M595.50,346.90 L596.00,347.31 L596.50,347.81 L597.00,348.32 L597.50,348.83 L598.00,349.34 L598.50,349.85 L599.00,350.35 L599.50,350.86 L600.00,351.37 L600.50,351.88 L601.00,352.39 L601.50,352.89 L602.00,353.40 L602.50,353.91 L603.00,354.42 L603.50,354.93 L604.00,355.43 L604.50,355.94 L605.00,356.45 L605.50,356.96 L606.00,357.47 L606.50,357.97 L607.00,358.48 L607.50,358.99 L608.00,359.50 L608.50,359.70 L609.00,359.70 L609.50,359.70 L610.00,359.70 L610.50,359.70 L611.00,359.70 L611.50,359.70 L612.00,359.70 L612.50,359.70 L613.00,359.70 L613.50,359.70 L614.00,359.70 L614.50,359.70" stroke="#1f5a64" stroke-width="3.7" fill="none" stroke-linejoin="round"/>
<path d="M595.50,346.90 L596.00,347.31 L596.50,347.81 L597.00,348.32 L597.50,348.83 L598.00,349.34 L598.50,349.85 L599.00,350.35 L599.50,350.86 L600.00,351.37 L600.50,351.88 L601.00,352.39 L601.50,352.89 L602.00,353.40 L602.50,353.91 L603.00,354.42 L603.50,354.93 L604.00,355.43 L604.50,355.94 L605.00,356.45 L605.50,356.96 L606.00,357.47 L606.50,357.97 L607.00,358.48 L607.50,358.99 L608.00,359.50 L608.50,359.70 L609.00,359.70 L609.50,359.70 L610.00,359.70 L610.50,359.70 L611.00,359.70 L611.50,359.70 L612.00,359.70 L612.50,359.70 L613.00,359.70 L613.50,359.70 L614.00,359.70 L614.50,359.70" stroke="#40b0be" stroke-width="2.3" fill="none" stroke-linejoin="round"/>
<path d="M633.00,346.90 L633.50,347.00 L634.00,347.51 L634.50,348.02 L635.00,348.53 L635.50,349.03 L636.00,349.54 L636.50,350.05 L637.00,350.56 L637.50,351.07 L638.00,351.57 L638.50,352.08 L639.00,352.59 L639.50,353.10 L640.00,353.60 L640.50,354.11 L641.00,354.62 L641.50,355.13 L642.00,355.64 L642.50,356.14 L643.00,356.65 L643.50,357.16 L644.00,357.67 L644.50,358.18 L645.00,358.68 L645.50,359.19 L646.00,359.70 L646.50,359.70 L647.00,359.70 L647.50,359.70 L648.00,359.70 L648.50,359.70 L649.00,359.70 L649.50,359.70 L650.00,359.70 L650.50,359.70 L651.00,359.70 L651.50,359.70 L652.00,359.70" stroke="#1f5a64" stroke-width="3.7" fill="none" stroke-linejoin="round"/>
<path d="M633.00,346.90 L633.50,347.00 L634.00,347.51 L634.50,348.02 L635.00,348.53 L635.50,349.03 L636.00,349.54 L636.50,350.05 L637.00,350.56 L637.50,351.07 L638.00,351.57 L638.50,352.08 L639.00,352.59 L639.50,353.10 L640.00,353.60 L640.50,354.11 L641.00,354.62 L641.50,355.13 L642.00,355.64 L642.50,356.14 L643.00,356.65 L643.50,357.16 L644.00,357.67 L644.50,358.18 L645.00,358.68 L645.50,359.19 L646.00,359.70 L646.50,359.70 L647.00,359.70 L647.50,359.70 L648.00,359.70 L648.50,359.70 L649.00,359.70 L649.50,359.70 L650.00,359.70 L650.50,359.70 L651.00,359.70 L651.50,359.70 L652.00,359.70" stroke="#40b0be" stroke-width="2.3" fill="none" stroke-linejoin="round"/>
<path d="M465.50,346.90 L466.00,347.10 L466.50,347.61 L467.00,348.12 L467.50,348.63 L468.00,349.13 L468.50,349.64 L469.00,350.15 L469.50,350.66 L470.00,351.17 L470.50,351.67 L471.00,352.18 L471.50,352.69 L472.00,353.20 L472.50,353.71 L473.00,354.21 L473.50,354.72 L474.00,355.23 L474.50,355.74 L475.00,356.25 L475.50,356.75 L476.00,357.26 L476.50,357.77 L477.00,358.28 L477.50,358.79 L478.00,359.29 L478.50,359.70 L479.00,359.70 L479.50,359.70 L480.00,359.70 L480.50,359.70 L481.00,359.70 L481.50,359.70 L482.00,359.70 L482.50,359.70 L483.00,359.70 L483.50,359.70 L484.00,359.70 L484.50,359.70" stroke="#1f5a64" stroke-width="3.7" fill="none" stroke-linejoin="round"/>
<path d="M465.50,346.90 L466.00,347.10 L466.50,347.61 L467.00,348.12 L467.50,348.63 L468.00,349.13 L468.50,349.64 L469.00,350.15 L469.50,350.66 L470.00,351.17 L470.50,351.67 L471.00,352.18 L471.50,352.69 L472.00,353.20 L472.50,353.71 L473.00,354.21 L473.50,354.72 L474.00,355.23 L474.50,355.74 L475.00,356.25 L475.50,356.75 L476.00,357.26 L476.50,357.77 L477.00,358.28 L477.50,358.79 L478.00,359.29 L478.50,359.70 L479.00,359.70 L479.50,359.70 L480.00,359.70 L480.50,359.70 L481.00,359.70 L481.50,359.70 L482.00,359.70 L482.50,359.70 L483.00,359.70 L483.50,359.70 L484.00,359.70 L484.50,359.70" stroke="#40b0be" stroke-width="2.3" fill="none" stroke-linejoin="round"/>
<path d="M503.50,346.90 L504.00,347.31 L504.50,347.81 L505.00,348.32 L505.50,348.83 L506.00,349.34 L506.50,349.85 L507.00,350.35 L507.50,350.86 L508.00,351.37 L508.50,351.88 L509.00,352.39 L509.50,352.89 L510.00,353.40 L510.50,353.91 L511.00,354.42 L511.50,354.93 L512.00,355.43 L512.50,355.94 L513.00,356.45 L513.50,356.96 L514.00,357.47 L514.50,357.97 L515.00,358.48 L515.50,358.99 L516.00,359.50 L516.50,359.70 L517.00,359.70 L517.50,359.70 L518.00,359.70 L518.50,359.70 L519.00,359.70 L519.50,359.70 L520.00,359.70 L520.50,359.70 L521.00,359.70 L521.50,359.70 L522.00,359.70 L522.50,359.70" stroke="#1f5a64" stroke-width="3.7" fill="none" stroke-linejoin="round"/>
<path d="M503.50,346.90 L504.00,347.31 L504.50,347.81 L505.00,348.32 L505.50,348.83 L506.00,349.34 L506.50,349.85 L507.00,350.35 L507.50,350.86 L508.00,351.37 L508.50,351.88 L509.00,352.39 L509.50,352.89 L510.00,353.40 L510.50,353.91 L511.00,354.42 L511.50,354.93 L512.00,355.43 L512.50,355.94 L513.00,356.45 L513.50,356.96 L514.00,357.47 L514.50,357.97 L515.00,358.48 L515.50,358.99 L516.00,359.50 L516.50,359.70 L517.00,359.70 L517.50,359.70 L518.00,359.70 L518.50,359.70 L519.00,359.70 L519.50,359.70 L520.00,359.70 L520.50,359.70 L521.00,359.70 L521.50,359.70 L522.00,359.70 L522.50,359.70" stroke="#40b0be" stroke-width="2.3" fill="none" stroke-linejoin="round"/>
<path d="M541.00,346.90 L541.50,347.00 L542.00,347.51 L542.50,348.02 L543.00,348.53 L543.50,349.03 L544.00,349.54 L544.50,350.05 L545.00,350.56 L545.50,351.07 L546.00,351.57 L546.50,352.08 L547.00,352.59 L547.50,353.10 L548.00,353.60 L548.50,354.11 L549.00,354.62 L549.50,355.13 L550.00,355.64 L550.50,356.14 L551.00,356.65 L551.50,357.16 L552.00,357.67 L552.50,358.18 L553.00,358.68 L553.50,359.19 L554.00,359.70 L554.50,359.70 L555.00,359.70 L555.50,359.70 L556.00,359.70 L556.50,359.70 L557.00,359.70 L557.50,359.70 L558.00,359.70 L558.50,359.70 L559.00,359.70 L559.50,359.70 L560.00,359.70" stroke="#1f5a64" stroke-width="3.7" fill="none" stroke-linejoin="round"/>
<path d="M541.00,346.90 L541.50,347.00 L542.00,347.51 L542.50,348.02 L543.00,348.53 L543.50,349.03 L544.00,349.54 L544.50,350.05 L545.00,350.56 L545.50,351.07 L546.00,351.57 L546.50,352.08 L547.00,352.59 L547.50,353.10 L548.00,353.60 L548.50,354.11 L549.00,354.62 L549.50,355.13 L550.00,355.64 L550.50,356.14 L551.00,356.65 L551.50,357.16 L552.00,357.67 L552.50,358.18 L553.00,358.68 L553.50,359.19 L554.00,359.70 L554.50,359.70 L555.00,359.70 L555.50,359.70 L556.00,359.70 L556.50,359.70 L557.00,359.70 L557.50,359.70 L558.00,359.70 L558.50,359.70 L559.00,359.70 L559.50,359.70 L560.00,359.70" stroke="#40b0be" stroke-width="2.3" fill="none" stroke-linejoin="round"/>
<path d="M579.00,346.90 L579.50,347.20 L580.00,347.71 L580.50,348.22 L581.00,348.73 L581.50,349.24 L582.00,349.74 L582.50,350.25 L583.00,350.76 L583.50,351.27 L584.00,351.78 L584.50,352.28 L585.00,352.79 L585.50,353.30 L586.00,353.81 L586.50,354.32 L587.00,354.82 L587.50,355.33 L588.00,355.84 L588.50,356.35 L589.00,356.86 L589.50,357.36 L590.00,357.87 L590.50,358.38 L591.00,358.89 L591.50,359.40 L592.00,359.70 L592.50,359.70 L593.00,359.70 L593.50,359.70 L594.00,359.70 L594.50,359.70 L595.00,359.70 L595.50,359.70 L596.00,359.70 L596.50,359.70 L597.00,359.70 L597.50,359.70 L598.00,359.70" stroke="#1f5a64" stroke-width="3.7" fill="none" stroke-linejoin="round"/>
<path d="M579.00,346.90 L579.50,347.20 L580.00,347.71 L580.50,348.22 L581.00,348.73 L581.50,349.24 L582.00,349.74 L582.50,350.25 L583.00,350.76 L583.50,351.27 L584.00,351.78 L584.50,352.28 L585.00,352.79 L585.50,353.30 L586.00,353.81 L586.50,354.32 L587.00,354.82 L587.50,355.33 L588.00,355.84 L588.50,356.35 L589.00,356.86 L589.50,357.36 L590.00,357.87 L590.50,358.38 L591.00,358.89 L591.50,359.40 L592.00,359.70 L592.50,359.70 L593.00,359.70 L593.50,359.70 L594.00,359.70 L594.50,359.70 L595.00,359.70 L595.50,359.70 L596.00,359.70 L596.50,359.70 L597.00,359.70 L597.50,359.70 L598.00,359.70" stroke="#40b0be" stroke-width="2.3" fill="none" stroke-linejoin="round"/>
<path d="M617.00,346.90 L617.50,347.41 L618.00,347.92 L618.50,348.42 L619.00,348.93 L619.50,349.44 L620.00,349.95 L620.50,350.46 L621.00,350.96 L621.50,351.47 L622.00,351.98 L622.50,352.49 L623.00,353.00 L623.50,353.50 L624.00,354.01 L624.50,354.52 L625.00,355.03 L625.50,355.53 L626.00,356.04 L626.50,356.55 L627.00,357.06 L627.50,357.57 L628.00,358.07 L628.50,358.58 L629.00,359.09 L629.50,359.60 L630.00,359.70 L630.50,359.70 L631.00,359.70 L631.50,359.70 L632.00,359.70 L632.50,359.70 L633.00,359.70 L633.50,359.70 L634.00,359.70 L634.50,359.70 L635.00,359.70 L635.50,359.70" stroke="#1f5a64" stroke-width="3.7" fill="none" stroke-linejoin="round"/>
<path d="M617.00,346.90 L617.50,347.41 L618.00,347.92 L618.50,348.42 L619.00,348.93 L619.50,349.44 L620.00,349.95 L620.50,350.46 L621.00,350.96 L621.50,351.47 L622.00,351.98 L622.50,352.49 L623.00,353.00 L623.50,353.50 L624.00,354.01 L624.50,354.52 L625.00,355.03 L625.50,355.53 L626.00,356.04 L626.50,356.55 L627.00,357.06 L627.50,357.57 L628.00,358.07 L628.50,358.58 L629.00,359.09 L629.50,359.60 L630.00,359.70 L630.50,359.70 L631.00,359.70 L631.50,359.70 L632.00,359.70 L632.50,359.70 L633.00,359.70 L633.50,359.70 L634.00,359.70 L634.50,359.70 L635.00,359.70 L635.50,359.70" stroke="#40b0be" stroke-width="2.3" fill="none" stroke-linejoin="round"/>
<path d="M463.00,359.70 L463.50,359.50 L464.00,358.99 L464.50,358.48 L465.00,357.97 L465.50,357.47 L466.00,356.96 L466.50,356.45 L467.00,355.94 L467.50,355.43 L468.00,354.93 L468.50,354.42 L469.00,353.91 L469.50,353.40 L470.00,352.89 L470.50,352.39 L471.00,351.88 L471.50,351.37 L472.00,350.86 L472.50,350.35 L473.00,349.85 L473.50,349.34 L474.00,348.83 L474.50,348.32 L475.00,347.81 L475.50,347.31 L476.00,346.90 L476.50,346.90 L477.00,346.90 L477.50,346.90 L478.00,346.90 L478.50,346.90 L479.00,346.90 L479.50,346.90 L480.00,346.90 L480.50,346.90 L481.00,346.90 L481.50,346.90 L482.00,346.90" stroke="#1f5a64" stroke-width="3.7" fill="none" stroke-linejoin="round"/>
<path d="M463.00,359.70 L463.50,359.50 L464.00,358.99 L464.50,358.48 L465.00,357.97 L465.50,357.47 L466.00,356.96 L466.50,356.45 L467.00,355.94 L467.50,355.43 L468.00,354.93 L468.50,354.42 L469.00,353.91 L469.50,353.40 L470.00,352.89 L470.50,352.39 L471.00,351.88 L471.50,351.37 L472.00,350.86 L472.50,350.35 L473.00,349.85 L473.50,349.34 L474.00,348.83 L474.50,348.32 L475.00,347.81 L475.50,347.31 L476.00,346.90 L476.50,346.90 L477.00,346.90 L477.50,346.90 L478.00,346.90 L478.50,346.90 L479.00,346.90 L479.50,346.90 L480.00,346.90 L480.50,346.90 L481.00,346.90 L481.50,346.90 L482.00,346.90" stroke="#4cbfcc" stroke-width="2.3" fill="none" stroke-linejoin="round"/>
<path d="M501.00,359.70 L501.50,359.29 L502.00,358.79 L502.50,358.28 L503.00,357.77 L503.50,357.26 L504.00,356.75 L504.50,356.25 L505.00,355.74 L505.50,355.23 L506.00,354.72 L506.50,354.21 L507.00,353.71 L507.50,353.20 L508.00,352.69 L508.50,352.18 L509.00,351.67 L509.50,351.17 L510.00,350.66 L510.50,350.15 L511.00,349.64 L511.50,349.13 L512.00,348.63 L512.50,348.12 L513.00,347.61 L513.50,347.10 L514.00,346.90 L514.50,346.90 L515.00,346.90 L515.50,346.90 L516.00,346.90 L516.50,346.90 L517.00,346.90 L517.50,346.90 L518.00,346.90 L518.50,346.90 L519.00,346.90 L519.50,346.90 L520.00,346.90" stroke="#1f5a64" stroke-width="3.7" fill="none" stroke-linejoin="round"/>
<path d="M501.00,359.70 L501.50,359.29 L502.00,358.79 L502.50,358.28 L503.00,357.77 L503.50,357.26 L504.00,356.75 L504.50,356.25 L505.00,355.74 L505.50,355.23 L506.00,354.72 L506.50,354.21 L507.00,353.71 L507.50,353.20 L508.00,352.69 L508.50,352.18 L509.00,351.67 L509.50,351.17 L510.00,350.66 L510.50,350.15 L511.00,349.64 L511.50,349.13 L512.00,348.63 L512.50,348.12 L513.00,347.61 L513.50,347.10 L514.00,346.90 L514.50,346.90 L515.00,346.90 L515.50,346.90 L516.00,346.90 L516.50,346.90 L517.00,346.90 L517.50,346.90 L518.00,346.90 L518.50,346.90 L519.00,346.90 L519.50,346.90 L520.00,346.90" stroke="#4cbfcc" stroke-width="2.3" fill="none" stroke-linejoin="round"/>
<path d="M538.50,359.70 L539.00,359.60 L539.50,359.09 L540.00,358.58 L540.50,358.07 L541.00,357.57 L541.50,357.06 L542.00,356.55 L542.50,356.04 L543.00,355.53 L543.50,355.03 L544.00,354.52 L544.50,354.01 L545.00,353.50 L545.50,353.00 L546.00,352.49 L546.50,351.98 L547.00,351.47 L547.50,350.96 L548.00,350.46 L548.50,349.95 L549.00,349.44 L549.50,348.93 L550.00,348.42 L550.50,347.92 L551.00,347.41 L551.50,346.90 L552.00,346.90 L552.50,346.90 L553.00,346.90 L553.50,346.90 L554.00,346.90 L554.50,346.90 L555.00,346.90 L555.50,346.90 L556.00,346.90 L556.50,346.90 L557.00,346.90 L557.50,346.90" stroke="#1f5a64" stroke-width="3.7" fill="none" stroke-linejoin="round"/>
<path d="M538.50,359.70 L539.00,359.60 L539.50,359.09 L540.00,358.58 L540.50,358.07 L541.00,357.57 L541.50,357.06 L542.00,356.55 L542.50,356.04 L543.00,355.53 L543.50,355.03 L544.00,354.52 L544.50,354.01 L545.00,353.50 L545.50,353.00 L546.00,352.49 L546.50,351.98 L547.00,351.47 L547.50,350.96 L548.00,350.46 L548.50,349.95 L549.00,349.44 L549.50,348.93 L550.00,348.42 L550.50,347.92 L551.00,347.41 L551.50,346.90 L552.00,346.90 L552.50,346.90 L553.00,346.90 L553.50,346.90 L554.00,346.90 L554.50,346.90 L555.00,346.90 L555.50,346.90 L556.00,346.90 L556.50,346.90 L557.00,346.90 L557.50,346.90" stroke="#4cbfcc" stroke-width="2.3" fill="none" stroke-linejoin="round"/>
<path d="M576.50,359.70 L577.00,359.40 L577.50,358.89 L578.00,358.38 L578.50,357.87 L579.00,357.36 L579.50,356.86 L580.00,356.35 L580.50,355.84 L581.00,355.33 L581.50,354.82 L582.00,354.32 L582.50,353.81 L583.00,353.30 L583.50,352.79 L584.00,352.28 L584.50,351.78 L585.00,351.27 L585.50,350.76 L586.00,350.25 L586.50,349.74 L587.00,349.24 L587.50,348.73 L588.00,348.22 L588.50,347.71 L589.00,347.20 L589.50,346.90 L590.00,346.90 L590.50,346.90 L591.00,346.90 L591.50,346.90 L592.00,346.90 L592.50,346.90 L593.00,346.90 L593.50,346.90 L594.00,346.90 L594.50,346.90 L595.00,346.90 L595.50,346.90" stroke="#1f5a64" stroke-width="3.7" fill="none" stroke-linejoin="round"/>
<path d="M576.50,359.70 L577.00,359.40 L577.50,358.89 L578.00,358.38 L578.50,357.87 L579.00,357.36 L579.50,356.86 L580.00,356.35 L580.50,355.84 L581.00,355.33 L581.50,354.82 L582.00,354.32 L582.50,353.81 L583.00,353.30 L583.50,352.79 L584.00,352.28 L584.50,351.78 L585.00,351.27 L585.50,350.76 L586.00,350.25 L586.50,349.74 L587.00,349.24 L587.50,348.73 L588.00,348.22 L588.50,347.71 L589.00,347.20 L589.50,346.90 L590.00,346.90 L590.50,346.90 L591.00,346.90 L591.50,346.90 L592.00,346.90 L592.50,346.90 L593.00,346.90 L593.50,346.90 L594.00,346.90 L594.50,346.90 L595.00,346.90 L595.50,346.90" stroke="#4cbfcc" stroke-width="2.3" fill="none" stroke-linejoin="round"/>
<path d="M614.50,359.70 L615.00,359.19 L615.50,358.68 L616.00,358.18 L616.50,357.67 L617.00,357.16 L617.50,356.65 L618.00,356.14 L618.50,355.64 L619.00,355.13 L619.50,354.62 L620.00,354.11 L620.50,353.60 L621.00,353.10 L621.50,352.59 L622.00,352.08 L622.50,351.57 L623.00,351.07 L623.50,350.56 L624.00,350.05 L624.50,349.54 L625.00,349.03 L625.50,348.53 L626.00,348.02 L626.50,347.51 L627.00,347.00 L627.50,346.90 L628.00,346.90 L628.50,346.90 L629.00,346.90 L629.50,346.90 L630.00,346.90 L630.50,346.90 L631.00,346.90 L631.50,346.90 L632.00,346.90 L632.50,346.90 L633.00,346.90" stroke="#1f5a64" stroke-width="3.7" fill="none" stroke-linejoin="round"/>
<path d="M614.50,359.70 L615.00,359.19 L615.50,358.68 L616.00,358.18 L616.50,357.67 L617.00,357.16 L617.50,356.65 L618.00,356.14 L618.50,355.64 L619.00,355.13 L619.50,354.62 L620.00,354.11 L620.50,353.60 L621.00,353.10 L621.50,352.59 L622.00,352.08 L622.50,351.57 L623.00,351.07 L623.50,350.56 L624.00,350.05 L624.50,349.54 L625.00,349.03 L625.50,348.53 L626.00,348.02 L626.50,347.51 L627.00,347.00 L627.50,346.90 L628.00,346.90 L628.50,346.90 L629.00,346.90 L629.50,346.90 L630.00,346.90 L630.50,346.90 L631.00,346.90 L631.50,346.90 L632.00,346.90 L632.50,346.90 L633.00,346.90" stroke="#4cbfcc" stroke-width="2.3" fill="none" stroke-linejoin="round"/>
<path d="M652.00,359.70 L652.50,359.50 L653.00,358.99 L653.50,358.48" stroke="#1f5a64" stroke-width="3.7" fill="none" stroke-linejoin="round"/>
<path d="M652.00,359.70 L652.50,359.50 L653.00,358.99 L653.50,358.48" stroke="#4cbfcc" stroke-width="2.3" fill="none" stroke-linejoin="round"/>
<path d="M442.50,359.70 L443.00,359.70 L443.50,359.70 L444.00,359.70 L444.50,359.70 L445.00,359.70 L445.50,359.70 L446.00,359.70 L446.50,359.70 L447.00,359.60 L447.50,359.09 L448.00,358.58 L448.50,358.07 L449.00,357.57 L449.50,357.06 L450.00,356.55 L450.50,356.04 L451.00,355.53 L451.50,355.03 L452.00,354.52 L452.50,354.01 L453.00,353.50 L453.50,353.00 L454.00,352.49 L454.50,351.98 L455.00,351.47 L455.50,350.96 L456.00,350.46 L456.50,349.95 L457.00,349.44 L457.50,348.93 L458.00,348.42 L458.50,347.92 L459.00,347.41 L459.50,346.90 L460.00,346.90 L460.50,346.90 L461.00,346.90 L461.50,346.90 L462.00,346.90 L462.50,346.90 L463.00,346.90 L463.50,346.90 L464.00,346.90 L464.50,346.90 L465.00,346.90 L465.50,346.90" stroke="#1f5a64" stroke-width="3.7" fill="none" stroke-linejoin="round"/>
<path d="M442.50,359.70 L443.00,359.70 L443.50,359.70 L444.00,359.70 L444.50,359.70 L445.00,359.70 L445.50,359.70 L446.00,359.70 L446.50,359.70 L447.00,359.60 L447.50,359.09 L448.00,358.58 L448.50,358.07 L449.00,357.57 L449.50,357.06 L450.00,356.55 L450.50,356.04 L451.00,355.53 L451.50,355.03 L452.00,354.52 L452.50,354.01 L453.00,353.50 L453.50,353.00 L454.00,352.49 L454.50,351.98 L455.00,351.47 L455.50,350.96 L456.00,350.46 L456.50,349.95 L457.00,349.44 L457.50,348.93 L458.00,348.42 L458.50,347.92 L459.00,347.41 L459.50,346.90 L460.00,346.90 L460.50,346.90 L461.00,346.90 L461.50,346.90 L462.00,346.90 L462.50,346.90 L463.00,346.90 L463.50,346.90 L464.00,346.90 L464.50,346.90 L465.00,346.90 L465.50,346.90" stroke="#4cbfcc" stroke-width="2.3" fill="none" stroke-linejoin="round"/>
<path d="M484.50,359.70 L485.00,359.40 L485.50,358.89 L486.00,358.38 L486.50,357.87 L487.00,357.36 L487.50,356.86 L488.00,356.35 L488.50,355.84 L489.00,355.33 L489.50,354.82 L490.00,354.32 L490.50,353.81 L491.00,353.30 L491.50,352.79 L492.00,352.28 L492.50,351.78 L493.00,351.27 L493.50,350.76 L494.00,350.25 L494.50,349.74 L495.00,349.24 L495.50,348.73 L496.00,348.22 L496.50,347.71 L497.00,347.20 L497.50,346.90 L498.00,346.90 L498.50,346.90 L499.00,346.90 L499.50,346.90 L500.00,346.90 L500.50,346.90 L501.00,346.90 L501.50,346.90 L502.00,346.90 L502.50,346.90 L503.00,346.90 L503.50,346.90" stroke="#1f5a64" stroke-width="3.7" fill="none" stroke-linejoin="round"/>
<path d="M484.50,359.70 L485.00,359.40 L485.50,358.89 L486.00,358.38 L486.50,357.87 L487.00,357.36 L487.50,356.86 L488.00,356.35 L488.50,355.84 L489.00,355.33 L489.50,354.82 L490.00,354.32 L490.50,353.81 L491.00,353.30 L491.50,352.79 L492.00,352.28 L492.50,351.78 L493.00,351.27 L493.50,350.76 L494.00,350.25 L494.50,349.74 L495.00,349.24 L495.50,348.73 L496.00,348.22 L496.50,347.71 L497.00,347.20 L497.50,346.90 L498.00,346.90 L498.50,346.90 L499.00,346.90 L499.50,346.90 L500.00,346.90 L500.50,346.90 L501.00,346.90 L501.50,346.90 L502.00,346.90 L502.50,346.90 L503.00,346.90 L503.50,346.90" stroke="#4cbfcc" stroke-width="2.3" fill="none" stroke-linejoin="round"/>
<path d="M522.50,359.70 L523.00,359.19 L523.50,358.68 L524.00,358.18 L524.50,357.67 L525.00,357.16 L525.50,356.65 L526.00,356.14 L526.50,355.64 L527.00,355.13 L527.50,354.62 L528.00,354.11 L528.50,353.60 L529.00,353.10 L529.50,352.59 L530.00,352.08 L530.50,351.57 L531.00,351.07 L531.50,350.56 L532.00,350.05 L532.50,349.54 L533.00,349.03 L533.50,348.53 L534.00,348.02 L534.50,347.51 L535.00,347.00 L535.50,346.90 L536.00,346.90 L536.50,346.90 L537.00,346.90 L537.50,346.90 L538.00,346.90 L538.50,346.90 L539.00,346.90 L539.50,346.90 L540.00,346.90 L540.50,346.90 L541.00,346.90" stroke="#1f5a64" stroke-width="3.7" fill="none" stroke-linejoin="round"/>
<path d="M522.50,359.70 L523.00,359.19 L523.50,358.68 L524.00,358.18 L524.50,357.67 L525.00,357.16 L525.50,356.65 L526.00,356.14 L526.50,355.64 L527.00,355.13 L527.50,354.62 L528.00,354.11 L528.50,353.60 L529.00,353.10 L529.50,352.59 L530.00,352.08 L530.50,351.57 L531.00,351.07 L531.50,350.56 L532.00,350.05 L532.50,349.54 L533.00,349.03 L533.50,348.53 L534.00,348.02 L534.50,347.51 L535.00,347.00 L535.50,346.90 L536.00,346.90 L536.50,346.90 L537.00,346.90 L537.50,346.90 L538.00,346.90 L538.50,346.90 L539.00,346.90 L539.50,346.90 L540.00,346.90 L540.50,346.90 L541.00,346.90" stroke="#4cbfcc" stroke-width="2.3" fill="none" stroke-linejoin="round"/>
<path d="M560.00,359.70 L560.50,359.50 L561.00,358.99 L561.50,358.48 L562.00,357.97 L562.50,357.47 L563.00,356.96 L563.50,356.45 L564.00,355.94 L564.50,355.43 L565.00,354.93 L565.50,354.42 L566.00,353.91 L566.50,353.40 L567.00,352.89 L567.50,352.39 L568.00,351.88 L568.50,351.37 L569.00,350.86 L569.50,350.35 L570.00,349.85 L570.50,349.34 L571.00,348.83 L571.50,348.32 L572.00,347.81 L572.50,347.31 L573.00,346.90 L573.50,346.90 L574.00,346.90 L574.50,346.90 L575.00,346.90 L575.50,346.90 L576.00,346.90 L576.50,346.90 L577.00,346.90 L577.50,346.90 L578.00,346.90 L578.50,346.90 L579.00,346.90" stroke="#1f5a64" stroke-width="3.7" fill="none" stroke-linejoin="round"/>
<path d="M560.00,359.70 L560.50,359.50 L561.00,358.99 L561.50,358.48 L562.00,357.97 L562.50,357.47 L563.00,356.96 L563.50,356.45 L564.00,355.94 L564.50,355.43 L565.00,354.93 L565.50,354.42 L566.00,353.91 L566.50,353.40 L567.00,352.89 L567.50,352.39 L568.00,351.88 L568.50,351.37 L569.00,350.86 L569.50,350.35 L570.00,349.85 L570.50,349.34 L571.00,348.83 L571.50,348.32 L572.00,347.81 L572.50,347.31 L573.00,346.90 L573.50,346.90 L574.00,346.90 L574.50,346.90 L575.00,346.90 L575.50,346.90 L576.00,346.90 L576.50,346.90 L577.00,346.90 L577.50,346.90 L578.00,346.90 L578.50,346.90 L579.00,346.90" stroke="#4cbfcc" stroke-width="2.3" fill="none" stroke-linejoin="round"/>
<path d="M598.00,359.70 L598.50,359.29 L599.00,358.79 L599.50,358.28 L600.00,357.77 L600.50,357.26 L601.00,356.75 L601.50,356.25 L602.00,355.74 L602.50,355.23 L603.00,354.72 L603.50,354.21 L604.00,353.71 L604.50,353.20 L605.00,352.69 L605.50,352.18 L606.00,351.67 L606.50,351.17 L607.00,350.66 L607.50,350.15 L608.00,349.64 L608.50,349.13 L609.00,348.63 L609.50,348.12 L610.00,347.61 L610.50,347.10 L611.00,346.90 L611.50,346.90 L612.00,346.90 L612.50,346.90 L613.00,346.90 L613.50,346.90 L614.00,346.90 L614.50,346.90 L615.00,346.90 L615.50,346.90 L616.00,346.90 L616.50,346.90 L617.00,346.90" stroke="#1f5a64" stroke-width="3.7" fill="none" stroke-linejoin="round"/>
<path d="M598.00,359.70 L598.50,359.29 L599.00,358.79 L599.50,358.28 L600.00,357.77 L600.50,357.26 L601.00,356.75 L601.50,356.25 L602.00,355.74 L602.50,355.23 L603.00,354.72 L603.50,354.21 L604.00,353.71 L604.50,353.20 L605.00,352.69 L605.50,352.18 L606.00,351.67 L606.50,351.17 L607.00,350.66 L607.50,350.15 L608.00,349.64 L608.50,349.13 L609.00,348.63 L609.50,348.12 L610.00,347.61 L610.50,347.10 L611.00,346.90 L611.50,346.90 L612.00,346.90 L612.50,346.90 L613.00,346.90 L613.50,346.90 L614.00,346.90 L614.50,346.90 L615.00,346.90 L615.50,346.90 L616.00,346.90 L616.50,346.90 L617.00,346.90" stroke="#4cbfcc" stroke-width="2.3" fill="none" stroke-linejoin="round"/>
<path d="M635.50,359.70 L636.00,359.60 L636.50,359.09 L637.00,358.58 L637.50,358.07 L638.00,357.57 L638.50,357.06 L639.00,356.55 L639.50,356.04 L640.00,355.53 L640.50,355.03 L641.00,354.52 L641.50,354.01 L642.00,353.50 L642.50,353.00 L643.00,352.49 L643.50,351.98 L644.00,351.47 L644.50,350.96 L645.00,350.46 L645.50,349.95 L646.00,349.44 L646.50,348.93 L647.00,348.42 L647.50,347.92 L648.00,347.41 L648.50,346.90 L649.00,346.90 L649.50,346.90 L650.00,346.90 L650.50,346.90 L651.00,346.90 L651.50,346.90 L652.00,346.90 L652.50,346.90 L653.00,346.90 L653.50,346.90" stroke="#1f5a64" stroke-width="3.7" fill="none" stroke-linejoin="round"/>
<path d="M635.50,359.70 L636.00,359.60 L636.50,359.09 L637.00,358.58 L637.50,358.07 L638.00,357.57 L638.50,357.06 L639.00,356.55 L639.50,356.04 L640.00,355.53 L640.50,355.03 L641.00,354.52 L641.50,354.01 L642.00,353.50 L642.50,353.00 L643.00,352.49 L643.50,351.98 L644.00,351.47 L644.50,350.96 L645.00,350.46 L645.50,349.95 L646.00,349.44 L646.50,348.93 L647.00,348.42 L647.50,347.92 L648.00,347.41 L648.50,346.90 L649.00,346.90 L649.50,346.90 L650.00,346.90 L650.50,346.90 L651.00,346.90 L651.50,346.90 L652.00,346.90 L652.50,346.90 L653.00,346.90 L653.50,346.90" stroke="#4cbfcc" stroke-width="2.3" fill="none" stroke-linejoin="round"/>
<path d="M438.80,474.90 L439.30,474.90 L439.80,474.90 L440.30,474.90 L440.80,475.00 L441.30,475.52 L441.80,476.03 L442.30,476.55 L442.80,477.07 L443.30,477.58 L443.80,478.10 L444.30,478.61 L444.80,479.13 L445.30,479.65 L445.80,480.16 L446.30,480.68 L446.80,481.19 L447.30,481.71 L447.80,482.23 L448.30,482.74 L448.80,483.26 L449.30,483.77 L449.80,484.29 L450.30,484.80 L450.80,485.32 L451.30,485.84 L451.80,486.35 L452.30,486.87 L452.80,487.38 L453.30,487.90 L453.80,487.90 L454.30,487.90 L454.80,487.90 L455.30,487.90 L455.80,487.90 L456.30,487.90 L456.80,487.90 L457.30,487.90 L457.80,487.90 L458.30,487.90 L458.80,487.90 L459.30,487.90" stroke="#1f5a64" stroke-width="3.7" fill="none" stroke-linejoin="round"/>
<path d="M438.80,474.90 L439.30,474.90 L439.80,474.90 L440.30,474.90 L440.80,475.00 L441.30,475.52 L441.80,476.03 L442.30,476.55 L442.80,477.07 L443.30,477.58 L443.80,478.10 L444.30,478.61 L444.80,479.13 L445.30,479.65 L445.80,480.16 L446.30,480.68 L446.80,481.19 L447.30,481.71 L447.80,482.23 L448.30,482.74 L448.80,483.26 L449.30,483.77 L449.80,484.29 L450.30,484.80 L450.80,485.32 L451.30,485.84 L451.80,486.35 L452.30,486.87 L452.80,487.38 L453.30,487.90 L453.80,487.90 L454.30,487.90 L454.80,487.90 L455.30,487.90 L455.80,487.90 L456.30,487.90 L456.80,487.90 L457.30,487.90 L457.80,487.90 L458.30,487.90 L458.80,487.90 L459.30,487.90" stroke="#40b0be" stroke-width="2.3" fill="none" stroke-linejoin="round"/>
<path d="M478.30,474.90 L478.80,475.21 L479.30,475.73 L479.80,476.24 L480.30,476.76 L480.80,477.27 L481.30,477.79 L481.80,478.30 L482.30,478.82 L482.80,479.34 L483.30,479.85 L483.80,480.37 L484.30,480.88 L484.80,481.40 L485.30,481.92 L485.80,482.43 L486.30,482.95 L486.80,483.46 L487.30,483.98 L487.80,484.50 L488.30,485.01 L488.80,485.53 L489.30,486.04 L489.80,486.56 L490.30,487.07 L490.80,487.59 L491.30,487.90 L491.80,487.90 L492.30,487.90 L492.80,487.90 L493.30,487.90 L493.80,487.90 L494.30,487.90 L494.80,487.90 L495.30,487.90 L495.80,487.90 L496.30,487.90 L496.80,487.90 L497.30,487.90" stroke="#1f5a64" stroke-width="3.7" fill="none" stroke-linejoin="round"/>
<path d="M478.30,474.90 L478.80,475.21 L479.30,475.73 L479.80,476.24 L480.30,476.76 L480.80,477.27 L481.30,477.79 L481.80,478.30 L482.30,478.82 L482.80,479.34 L483.30,479.85 L483.80,480.37 L484.30,480.88 L484.80,481.40 L485.30,481.92 L485.80,482.43 L486.30,482.95 L486.80,483.46 L487.30,483.98 L487.80,484.50 L488.30,485.01 L488.80,485.53 L489.30,486.04 L489.80,486.56 L490.30,487.07 L490.80,487.59 L491.30,487.90 L491.80,487.90 L492.30,487.90 L492.80,487.90 L493.30,487.90 L493.80,487.90 L494.30,487.90 L494.80,487.90 L495.30,487.90 L495.80,487.90 L496.30,487.90 L496.80,487.90 L497.30,487.90" stroke="#40b0be" stroke-width="2.3" fill="none" stroke-linejoin="round"/>
<path d="M516.30,474.90 L516.80,475.42 L517.30,475.93 L517.80,476.45 L518.30,476.96 L518.80,477.48 L519.30,478.00 L519.80,478.51 L520.30,479.03 L520.80,479.54 L521.30,480.06 L521.80,480.57 L522.30,481.09 L522.80,481.61 L523.30,482.12 L523.80,482.64 L524.30,483.15 L524.80,483.67 L525.30,484.19 L525.80,484.70 L526.30,485.22 L526.80,485.73 L527.30,486.25 L527.80,486.77 L528.30,487.28 L528.80,487.80 L529.30,487.90 L529.80,487.90 L530.30,487.90 L530.80,487.90 L531.30,487.90 L531.80,487.90 L532.30,487.90 L532.80,487.90 L533.30,487.90 L533.80,487.90 L534.30,487.90 L534.80,487.90" stroke="#1f5a64" stroke-width="3.7" fill="none" stroke-linejoin="round"/>
<path d="M516.30,474.90 L516.80,475.42 L517.30,475.93 L517.80,476.45 L518.30,476.96 L518.80,477.48 L519.30,478.00 L519.80,478.51 L520.30,479.03 L520.80,479.54 L521.30,480.06 L521.80,480.57 L522.30,481.09 L522.80,481.61 L523.30,482.12 L523.80,482.64 L524.30,483.15 L524.80,483.67 L525.30,484.19 L525.80,484.70 L526.30,485.22 L526.80,485.73 L527.30,486.25 L527.80,486.77 L528.30,487.28 L528.80,487.80 L529.30,487.90 L529.80,487.90 L530.30,487.90 L530.80,487.90 L531.30,487.90 L531.80,487.90 L532.30,487.90 L532.80,487.90 L533.30,487.90 L533.80,487.90 L534.30,487.90 L534.80,487.90" stroke="#40b0be" stroke-width="2.3" fill="none" stroke-linejoin="round"/>
<path d="M553.80,474.90 L554.30,475.11 L554.80,475.62 L555.30,476.14 L555.80,476.65 L556.30,477.17 L556.80,477.69 L557.30,478.20 L557.80,478.72 L558.30,479.23 L558.80,479.75 L559.30,480.27 L559.80,480.78 L560.30,481.30 L560.80,481.81 L561.30,482.33 L561.80,482.84 L562.30,483.36 L562.80,483.88 L563.30,484.39 L563.80,484.91 L564.30,485.42 L564.80,485.94 L565.30,486.46 L565.80,486.97 L566.30,487.49 L566.80,487.90 L567.30,487.90 L567.80,487.90 L568.30,487.90 L568.80,487.90 L569.30,487.90 L569.80,487.90 L570.30,487.90 L570.80,487.90 L571.30,487.90 L571.80,487.90 L572.30,487.90 L572.80,487.90" stroke="#1f5a64" stroke-width="3.7" fill="none" stroke-linejoin="round"/>
<path d="M553.80,474.90 L554.30,475.11 L554.80,475.62 L555.30,476.14 L555.80,476.65 L556.30,477.17 L556.80,477.69 L557.30,478.20 L557.80,478.72 L558.30,479.23 L558.80,479.75 L559.30,480.27 L559.80,480.78 L560.30,481.30 L560.80,481.81 L561.30,482.33 L561.80,482.84 L562.30,483.36 L562.80,483.88 L563.30,484.39 L563.80,484.91 L564.30,485.42 L564.80,485.94 L565.30,486.46 L565.80,486.97 L566.30,487.49 L566.80,487.90 L567.30,487.90 L567.80,487.90 L568.30,487.90 L568.80,487.90 L569.30,487.90 L569.80,487.90 L570.30,487.90 L570.80,487.90 L571.30,487.90 L571.80,487.90 L572.30,487.90 L572.80,487.90" stroke="#40b0be" stroke-width="2.3" fill="none" stroke-linejoin="round"/>
<path d="M591.80,474.90 L592.30,475.31 L592.80,475.83 L593.30,476.34 L593.80,476.86 L594.30,477.38 L594.80,477.89 L595.30,478.41 L595.80,478.92 L596.30,479.44 L596.80,479.96 L597.30,480.47 L597.80,480.99 L598.30,481.50 L598.80,482.02 L599.30,482.53 L599.80,483.05 L600.30,483.57 L600.80,484.08 L601.30,484.60 L601.80,485.11 L602.30,485.63 L602.80,486.15 L603.30,486.66 L603.80,487.18 L604.30,487.69 L604.80,487.90 L605.30,487.90 L605.80,487.90 L606.30,487.90 L606.80,487.90 L607.30,487.90 L607.80,487.90 L608.30,487.90 L608.80,487.90 L609.30,487.90 L609.80,487.90 L610.30,487.90 L610.80,487.90" stroke="#1f5a64" stroke-width="3.7" fill="none" stroke-linejoin="round"/>
<path d="M591.80,474.90 L592.30,475.31 L592.80,475.83 L593.30,476.34 L593.80,476.86 L594.30,477.38 L594.80,477.89 L595.30,478.41 L595.80,478.92 L596.30,479.44 L596.80,479.96 L597.30,480.47 L597.80,480.99 L598.30,481.50 L598.80,482.02 L599.30,482.53 L599.80,483.05 L600.30,483.57 L600.80,484.08 L601.30,484.60 L601.80,485.11 L602.30,485.63 L602.80,486.15 L603.30,486.66 L603.80,487.18 L604.30,487.69 L604.80,487.90 L605.30,487.90 L605.80,487.90 L606.30,487.90 L606.80,487.90 L607.30,487.90 L607.80,487.90 L608.30,487.90 L608.80,487.90 L609.30,487.90 L609.80,487.90 L610.30,487.90 L610.80,487.90" stroke="#40b0be" stroke-width="2.3" fill="none" stroke-linejoin="round"/>
<path d="M629.30,474.90 L629.80,475.00 L630.30,475.52 L630.80,476.03 L631.30,476.55 L631.80,477.07 L632.30,477.58 L632.80,478.10 L633.30,478.61 L633.80,479.13 L634.30,479.65 L634.80,480.16 L635.30,480.68 L635.80,481.19 L636.30,481.71 L636.80,482.23 L637.30,482.74 L637.80,483.26 L638.30,483.77 L638.80,484.29 L639.30,484.80 L639.80,485.32 L640.30,485.84 L640.80,486.35 L641.30,486.87 L641.80,487.38 L642.30,487.90 L642.80,487.90 L643.30,487.90 L643.80,487.90 L644.30,487.90 L644.80,487.90 L645.30,487.90 L645.80,487.90 L646.30,487.90 L646.80,487.90 L647.30,487.90 L647.80,487.90 L648.30,487.90" stroke="#1f5a64" stroke-width="3.7" fill="none" stroke-linejoin="round"/>
<path d="M629.30,474.90 L629.80,475.00 L630.30,475.52 L630.80,476.03 L631.30,476.55 L631.80,477.07 L632.30,477.58 L632.80,478.10 L633.30,478.61 L633.80,479.13 L634.30,479.65 L634.80,480.16 L635.30,480.68 L635.80,481.19 L636.30,481.71 L636.80,482.23 L637.30,482.74 L637.80,483.26 L638.30,483.77 L638.80,484.29 L639.30,484.80 L639.80,485.32 L640.30,485.84 L640.80,486.35 L641.30,486.87 L641.80,487.38 L642.30,487.90 L642.80,487.90 L643.30,487.90 L643.80,487.90 L644.30,487.90 L644.80,487.90 L645.30,487.90 L645.80,487.90 L646.30,487.90 L646.80,487.90 L647.30,487.90 L647.80,487.90 L648.30,487.90" stroke="#40b0be" stroke-width="2.3" fill="none" stroke-linejoin="round"/>
<path d="M461.80,474.90 L462.30,475.11 L462.80,475.62 L463.30,476.14 L463.80,476.65 L464.30,477.17 L464.80,477.69 L465.30,478.20 L465.80,478.72 L466.30,479.23 L466.80,479.75 L467.30,480.27 L467.80,480.78 L468.30,481.30 L468.80,481.81 L469.30,482.33 L469.80,482.84 L470.30,483.36 L470.80,483.88 L471.30,484.39 L471.80,484.91 L472.30,485.42 L472.80,485.94 L473.30,486.46 L473.80,486.97 L474.30,487.49 L474.80,487.90 L475.30,487.90 L475.80,487.90 L476.30,487.90 L476.80,487.90 L477.30,487.90 L477.80,487.90 L478.30,487.90 L478.80,487.90 L479.30,487.90 L479.80,487.90 L480.30,487.90 L480.80,487.90" stroke="#1f5a64" stroke-width="3.7" fill="none" stroke-linejoin="round"/>
<path d="M461.80,474.90 L462.30,475.11 L462.80,475.62 L463.30,476.14 L463.80,476.65 L464.30,477.17 L464.80,477.69 L465.30,478.20 L465.80,478.72 L466.30,479.23 L466.80,479.75 L467.30,480.27 L467.80,480.78 L468.30,481.30 L468.80,481.81 L469.30,482.33 L469.80,482.84 L470.30,483.36 L470.80,483.88 L471.30,484.39 L471.80,484.91 L472.30,485.42 L472.80,485.94 L473.30,486.46 L473.80,486.97 L474.30,487.49 L474.80,487.90 L475.30,487.90 L475.80,487.90 L476.30,487.90 L476.80,487.90 L477.30,487.90 L477.80,487.90 L478.30,487.90 L478.80,487.90 L479.30,487.90 L479.80,487.90 L480.30,487.90 L480.80,487.90" stroke="#40b0be" stroke-width="2.3" fill="none" stroke-linejoin="round"/>
<path d="M499.80,474.90 L500.30,475.31 L500.80,475.83 L501.30,476.34 L501.80,476.86 L502.30,477.38 L502.80,477.89 L503.30,478.41 L503.80,478.92 L504.30,479.44 L504.80,479.96 L505.30,480.47 L505.80,480.99 L506.30,481.50 L506.80,482.02 L507.30,482.53 L507.80,483.05 L508.30,483.57 L508.80,484.08 L509.30,484.60 L509.80,485.11 L510.30,485.63 L510.80,486.15 L511.30,486.66 L511.80,487.18 L512.30,487.69 L512.80,487.90 L513.30,487.90 L513.80,487.90 L514.30,487.90 L514.80,487.90 L515.30,487.90 L515.80,487.90 L516.30,487.90 L516.80,487.90 L517.30,487.90 L517.80,487.90 L518.30,487.90 L518.80,487.90" stroke="#1f5a64" stroke-width="3.7" fill="none" stroke-linejoin="round"/>
<path d="M499.80,474.90 L500.30,475.31 L500.80,475.83 L501.30,476.34 L501.80,476.86 L502.30,477.38 L502.80,477.89 L503.30,478.41 L503.80,478.92 L504.30,479.44 L504.80,479.96 L505.30,480.47 L505.80,480.99 L506.30,481.50 L506.80,482.02 L507.30,482.53 L507.80,483.05 L508.30,483.57 L508.80,484.08 L509.30,484.60 L509.80,485.11 L510.30,485.63 L510.80,486.15 L511.30,486.66 L511.80,487.18 L512.30,487.69 L512.80,487.90 L513.30,487.90 L513.80,487.90 L514.30,487.90 L514.80,487.90 L515.30,487.90 L515.80,487.90 L516.30,487.90 L516.80,487.90 L517.30,487.90 L517.80,487.90 L518.30,487.90 L518.80,487.90" stroke="#40b0be" stroke-width="2.3" fill="none" stroke-linejoin="round"/>
<path d="M537.30,474.90 L537.80,475.00 L538.30,475.52 L538.80,476.03 L539.30,476.55 L539.80,477.07 L540.30,477.58 L540.80,478.10 L541.30,478.61 L541.80,479.13 L542.30,479.65 L542.80,480.16 L543.30,480.68 L543.80,481.19 L544.30,481.71 L544.80,482.23 L545.30,482.74 L545.80,483.26 L546.30,483.77 L546.80,484.29 L547.30,484.80 L547.80,485.32 L548.30,485.84 L548.80,486.35 L549.30,486.87 L549.80,487.38 L550.30,487.90 L550.80,487.90 L551.30,487.90 L551.80,487.90 L552.30,487.90 L552.80,487.90 L553.30,487.90 L553.80,487.90 L554.30,487.90 L554.80,487.90 L555.30,487.90 L555.80,487.90 L556.30,487.90" stroke="#1f5a64" stroke-width="3.7" fill="none" stroke-linejoin="round"/>
<path d="M537.30,474.90 L537.80,475.00 L538.30,475.52 L538.80,476.03 L539.30,476.55 L539.80,477.07 L540.30,477.58 L540.80,478.10 L541.30,478.61 L541.80,479.13 L542.30,479.65 L542.80,480.16 L543.30,480.68 L543.80,481.19 L544.30,481.71 L544.80,482.23 L545.30,482.74 L545.80,483.26 L546.30,483.77 L546.80,484.29 L547.30,484.80 L547.80,485.32 L548.30,485.84 L548.80,486.35 L549.30,486.87 L549.80,487.38 L550.30,487.90 L550.80,487.90 L551.30,487.90 L551.80,487.90 L552.30,487.90 L552.80,487.90 L553.30,487.90 L553.80,487.90 L554.30,487.90 L554.80,487.90 L555.30,487.90 L555.80,487.90 L556.30,487.90" stroke="#40b0be" stroke-width="2.3" fill="none" stroke-linejoin="round"/>
<path d="M575.30,474.90 L575.80,475.21 L576.30,475.73 L576.80,476.24 L577.30,476.76 L577.80,477.27 L578.30,477.79 L578.80,478.30 L579.30,478.82 L579.80,479.34 L580.30,479.85 L580.80,480.37 L581.30,480.88 L581.80,481.40 L582.30,481.92 L582.80,482.43 L583.30,482.95 L583.80,483.46 L584.30,483.98 L584.80,484.50 L585.30,485.01 L585.80,485.53 L586.30,486.04 L586.80,486.56 L587.30,487.07 L587.80,487.59 L588.30,487.90 L588.80,487.90 L589.30,487.90 L589.80,487.90 L590.30,487.90 L590.80,487.90 L591.30,487.90 L591.80,487.90 L592.30,487.90 L592.80,487.90 L593.30,487.90 L593.80,487.90 L594.30,487.90" stroke="#1f5a64" stroke-width="3.7" fill="none" stroke-linejoin="round"/>
<path d="M575.30,474.90 L575.80,475.21 L576.30,475.73 L576.80,476.24 L577.30,476.76 L577.80,477.27 L578.30,477.79 L578.80,478.30 L579.30,478.82 L579.80,479.34 L580.30,479.85 L580.80,480.37 L581.30,480.88 L581.80,481.40 L582.30,481.92 L582.80,482.43 L583.30,482.95 L583.80,483.46 L584.30,483.98 L584.80,484.50 L585.30,485.01 L585.80,485.53 L586.30,486.04 L586.80,486.56 L587.30,487.07 L587.80,487.59 L588.30,487.90 L588.80,487.90 L589.30,487.90 L589.80,487.90 L590.30,487.90 L590.80,487.90 L591.30,487.90 L591.80,487.90 L592.30,487.90 L592.80,487.90 L593.30,487.90 L593.80,487.90 L594.30,487.90" stroke="#40b0be" stroke-width="2.3" fill="none" stroke-linejoin="round"/>
<path d="M613.30,474.90 L613.80,475.42 L614.30,475.93 L614.80,476.45 L615.30,476.96 L615.80,477.48 L616.30,478.00 L616.80,478.51 L617.30,479.03 L617.80,479.54 L618.30,480.06 L618.80,480.57 L619.30,481.09 L619.80,481.61 L620.30,482.12 L620.80,482.64 L621.30,483.15 L621.80,483.67 L622.30,484.19 L622.80,484.70 L623.30,485.22 L623.80,485.73 L624.30,486.25 L624.80,486.77 L625.30,487.28 L625.80,487.80 L626.30,487.90 L626.80,487.90 L627.30,487.90 L627.80,487.90 L628.30,487.90 L628.80,487.90 L629.30,487.90 L629.80,487.90 L630.30,487.90 L630.80,487.90 L631.30,487.90 L631.80,487.90" stroke="#1f5a64" stroke-width="3.7" fill="none" stroke-linejoin="round"/>
<path d="M613.30,474.90 L613.80,475.42 L614.30,475.93 L614.80,476.45 L615.30,476.96 L615.80,477.48 L616.30,478.00 L616.80,478.51 L617.30,479.03 L617.80,479.54 L618.30,480.06 L618.80,480.57 L619.30,481.09 L619.80,481.61 L620.30,482.12 L620.80,482.64 L621.30,483.15 L621.80,483.67 L622.30,484.19 L622.80,484.70 L623.30,485.22 L623.80,485.73 L624.30,486.25 L624.80,486.77 L625.30,487.28 L625.80,487.80 L626.30,487.90 L626.80,487.90 L627.30,487.90 L627.80,487.90 L628.30,487.90 L628.80,487.90 L629.30,487.90 L629.80,487.90 L630.30,487.90 L630.80,487.90 L631.30,487.90 L631.80,487.90" stroke="#40b0be" stroke-width="2.3" fill="none" stroke-linejoin="round"/>
<path d="M650.80,474.90 L651.30,475.11 L651.80,475.62 L652.30,476.14 L652.80,476.65 L653.30,477.17 L653.80,477.69 L654.30,478.20 L654.80,478.72 L655.30,479.23 L655.80,479.75 L656.30,480.27 L656.40,480.37" stroke="#1f5a64" stroke-width="3.7" fill="none" stroke-linejoin="round"/>
<path d="M650.80,474.90 L651.30,475.11 L651.80,475.62 L652.30,476.14 L652.80,476.65 L653.30,477.17 L653.80,477.69 L654.30,478.20 L654.80,478.72 L655.30,479.23 L655.80,479.75 L656.30,480.27 L656.40,480.37" stroke="#40b0be" stroke-width="2.3" fill="none" stroke-linejoin="round"/>
<path d="M459.30,487.90 L459.80,487.69 L460.30,487.18 L460.80,486.66 L461.30,486.15 L461.80,485.63 L462.30,485.11 L462.80,484.60 L463.30,484.08 L463.80,483.57 L464.30,483.05 L464.80,482.53 L465.30,482.02 L465.80,481.50 L466.30,480.99 L466.80,480.47 L467.30,479.96 L467.80,479.44 L468.30,478.92 L468.80,478.41 L469.30,477.89 L469.80,477.38 L470.30,476.86 L470.80,476.34 L471.30,475.83 L471.80,475.31 L472.30,474.90 L472.80,474.90 L473.30,474.90 L473.80,474.90 L474.30,474.90 L474.80,474.90 L475.30,474.90 L475.80,474.90 L476.30,474.90 L476.80,474.90 L477.30,474.90 L477.80,474.90 L478.30,474.90" stroke="#1f5a64" stroke-width="3.7" fill="none" stroke-linejoin="round"/>
<path d="M459.30,487.90 L459.80,487.69 L460.30,487.18 L460.80,486.66 L461.30,486.15 L461.80,485.63 L462.30,485.11 L462.80,484.60 L463.30,484.08 L463.80,483.57 L464.30,483.05 L464.80,482.53 L465.30,482.02 L465.80,481.50 L466.30,480.99 L466.80,480.47 L467.30,479.96 L467.80,479.44 L468.30,478.92 L468.80,478.41 L469.30,477.89 L469.80,477.38 L470.30,476.86 L470.80,476.34 L471.30,475.83 L471.80,475.31 L472.30,474.90 L472.80,474.90 L473.30,474.90 L473.80,474.90 L474.30,474.90 L474.80,474.90 L475.30,474.90 L475.80,474.90 L476.30,474.90 L476.80,474.90 L477.30,474.90 L477.80,474.90 L478.30,474.90" stroke="#4cbfcc" stroke-width="2.3" fill="none" stroke-linejoin="round"/>
<path d="M497.30,487.90 L497.80,487.49 L498.30,486.97 L498.80,486.46 L499.30,485.94 L499.80,485.42 L500.30,484.91 L500.80,484.39 L501.30,483.88 L501.80,483.36 L502.30,482.84 L502.80,482.33 L503.30,481.81 L503.80,481.30 L504.30,480.78 L504.80,480.27 L505.30,479.75 L505.80,479.23 L506.30,478.72 L506.80,478.20 L507.30,477.69 L507.80,477.17 L508.30,476.65 L508.80,476.14 L509.30,475.62 L509.80,475.11 L510.30,474.90 L510.80,474.90 L511.30,474.90 L511.80,474.90 L512.30,474.90 L512.80,474.90 L513.30,474.90 L513.80,474.90 L514.30,474.90 L514.80,474.90 L515.30,474.90 L515.80,474.90 L516.30,474.90" stroke="#1f5a64" stroke-width="3.7" fill="none" stroke-linejoin="round"/>
<path d="M497.30,487.90 L497.80,487.49 L498.30,486.97 L498.80,486.46 L499.30,485.94 L499.80,485.42 L500.30,484.91 L500.80,484.39 L501.30,483.88 L501.80,483.36 L502.30,482.84 L502.80,482.33 L503.30,481.81 L503.80,481.30 L504.30,480.78 L504.80,480.27 L505.30,479.75 L505.80,479.23 L506.30,478.72 L506.80,478.20 L507.30,477.69 L507.80,477.17 L508.30,476.65 L508.80,476.14 L509.30,475.62 L509.80,475.11 L510.30,474.90 L510.80,474.90 L511.30,474.90 L511.80,474.90 L512.30,474.90 L512.80,474.90 L513.30,474.90 L513.80,474.90 L514.30,474.90 L514.80,474.90 L515.30,474.90 L515.80,474.90 L516.30,474.90" stroke="#4cbfcc" stroke-width="2.3" fill="none" stroke-linejoin="round"/>
<path d="M534.80,487.90 L535.30,487.80 L535.80,487.28 L536.30,486.77 L536.80,486.25 L537.30,485.73 L537.80,485.22 L538.30,484.70 L538.80,484.19 L539.30,483.67 L539.80,483.15 L540.30,482.64 L540.80,482.12 L541.30,481.61 L541.80,481.09 L542.30,480.57 L542.80,480.06 L543.30,479.54 L543.80,479.03 L544.30,478.51 L544.80,478.00 L545.30,477.48 L545.80,476.96 L546.30,476.45 L546.80,475.93 L547.30,475.42 L547.80,474.90 L548.30,474.90 L548.80,474.90 L549.30,474.90 L549.80,474.90 L550.30,474.90 L550.80,474.90 L551.30,474.90 L551.80,474.90 L552.30,474.90 L552.80,474.90 L553.30,474.90 L553.80,474.90" stroke="#1f5a64" stroke-width="3.7" fill="none" stroke-linejoin="round"/>
<path d="M534.80,487.90 L535.30,487.80 L535.80,487.28 L536.30,486.77 L536.80,486.25 L537.30,485.73 L537.80,485.22 L538.30,484.70 L538.80,484.19 L539.30,483.67 L539.80,483.15 L540.30,482.64 L540.80,482.12 L541.30,481.61 L541.80,481.09 L542.30,480.57 L542.80,480.06 L543.30,479.54 L543.80,479.03 L544.30,478.51 L544.80,478.00 L545.30,477.48 L545.80,476.96 L546.30,476.45 L546.80,475.93 L547.30,475.42 L547.80,474.90 L548.30,474.90 L548.80,474.90 L549.30,474.90 L549.80,474.90 L550.30,474.90 L550.80,474.90 L551.30,474.90 L551.80,474.90 L552.30,474.90 L552.80,474.90 L553.30,474.90 L553.80,474.90" stroke="#4cbfcc" stroke-width="2.3" fill="none" stroke-linejoin="round"/>
<path d="M572.80,487.90 L573.30,487.59 L573.80,487.07 L574.30,486.56 L574.80,486.04 L575.30,485.53 L575.80,485.01 L576.30,484.50 L576.80,483.98 L577.30,483.46 L577.80,482.95 L578.30,482.43 L578.80,481.92 L579.30,481.40 L579.80,480.88 L580.30,480.37 L580.80,479.85 L581.30,479.34 L581.80,478.82 L582.30,478.30 L582.80,477.79 L583.30,477.27 L583.80,476.76 L584.30,476.24 L584.80,475.73 L585.30,475.21 L585.80,474.90 L586.30,474.90 L586.80,474.90 L587.30,474.90 L587.80,474.90 L588.30,474.90 L588.80,474.90 L589.30,474.90 L589.80,474.90 L590.30,474.90 L590.80,474.90 L591.30,474.90 L591.80,474.90" stroke="#1f5a64" stroke-width="3.7" fill="none" stroke-linejoin="round"/>
<path d="M572.80,487.90 L573.30,487.59 L573.80,487.07 L574.30,486.56 L574.80,486.04 L575.30,485.53 L575.80,485.01 L576.30,484.50 L576.80,483.98 L577.30,483.46 L577.80,482.95 L578.30,482.43 L578.80,481.92 L579.30,481.40 L579.80,480.88 L580.30,480.37 L580.80,479.85 L581.30,479.34 L581.80,478.82 L582.30,478.30 L582.80,477.79 L583.30,477.27 L583.80,476.76 L584.30,476.24 L584.80,475.73 L585.30,475.21 L585.80,474.90 L586.30,474.90 L586.80,474.90 L587.30,474.90 L587.80,474.90 L588.30,474.90 L588.80,474.90 L589.30,474.90 L589.80,474.90 L590.30,474.90 L590.80,474.90 L591.30,474.90 L591.80,474.90" stroke="#4cbfcc" stroke-width="2.3" fill="none" stroke-linejoin="round"/>
<path d="M610.80,487.90 L611.30,487.38 L611.80,486.87 L612.30,486.35 L612.80,485.84 L613.30,485.32 L613.80,484.80 L614.30,484.29 L614.80,483.77 L615.30,483.26 L615.80,482.74 L616.30,482.23 L616.80,481.71 L617.30,481.19 L617.80,480.68 L618.30,480.16 L618.80,479.65 L619.30,479.13 L619.80,478.61 L620.30,478.10 L620.80,477.58 L621.30,477.07 L621.80,476.55 L622.30,476.03 L622.80,475.52 L623.30,475.00 L623.80,474.90 L624.30,474.90 L624.80,474.90 L625.30,474.90 L625.80,474.90 L626.30,474.90 L626.80,474.90 L627.30,474.90 L627.80,474.90 L628.30,474.90 L628.80,474.90 L629.30,474.90" stroke="#1f5a64" stroke-width="3.7" fill="none" stroke-linejoin="round"/>
<path d="M610.80,487.90 L611.30,487.38 L611.80,486.87 L612.30,486.35 L612.80,485.84 L613.30,485.32 L613.80,484.80 L614.30,484.29 L614.80,483.77 L615.30,483.26 L615.80,482.74 L616.30,482.23 L616.80,481.71 L617.30,481.19 L617.80,480.68 L618.30,480.16 L618.80,479.65 L619.30,479.13 L619.80,478.61 L620.30,478.10 L620.80,477.58 L621.30,477.07 L621.80,476.55 L622.30,476.03 L622.80,475.52 L623.30,475.00 L623.80,474.90 L624.30,474.90 L624.80,474.90 L625.30,474.90 L625.80,474.90 L626.30,474.90 L626.80,474.90 L627.30,474.90 L627.80,474.90 L628.30,474.90 L628.80,474.90 L629.30,474.90" stroke="#4cbfcc" stroke-width="2.3" fill="none" stroke-linejoin="round"/>
<path d="M648.30,487.90 L648.80,487.69 L649.30,487.18 L649.80,486.66 L650.30,486.15 L650.80,485.63 L651.30,485.11 L651.80,484.60 L652.30,484.08 L652.80,483.57 L653.30,483.05 L653.80,482.53 L654.30,482.02 L654.80,481.50 L655.30,480.99 L655.80,480.47 L656.30,479.96 L656.40,479.85" stroke="#1f5a64" stroke-width="3.7" fill="none" stroke-linejoin="round"/>
<path d="M648.30,487.90 L648.80,487.69 L649.30,487.18 L649.80,486.66 L650.30,486.15 L650.80,485.63 L651.30,485.11 L651.80,484.60 L652.30,484.08 L652.80,483.57 L653.30,483.05 L653.80,482.53 L654.30,482.02 L654.80,481.50 L655.30,480.99 L655.80,480.47 L656.30,479.96 L656.40,479.85" stroke="#4cbfcc" stroke-width="2.3" fill="none" stroke-linejoin="round"/>
<path d="M438.80,487.90 L439.30,487.90 L439.80,487.90 L440.30,487.90 L440.80,487.90 L441.30,487.90 L441.80,487.90 L442.30,487.90 L442.80,487.90 L443.30,487.80 L443.80,487.28 L444.30,486.77 L444.80,486.25 L445.30,485.73 L445.80,485.22 L446.30,484.70 L446.80,484.19 L447.30,483.67 L447.80,483.15 L448.30,482.64 L448.80,482.12 L449.30,481.61 L449.80,481.09 L450.30,480.57 L450.80,480.06 L451.30,479.54 L451.80,479.03 L452.30,478.51 L452.80,478.00 L453.30,477.48 L453.80,476.96 L454.30,476.45 L454.80,475.93 L455.30,475.42 L455.80,474.90 L456.30,474.90 L456.80,474.90 L457.30,474.90 L457.80,474.90 L458.30,474.90 L458.80,474.90 L459.30,474.90 L459.80,474.90 L460.30,474.90 L460.80,474.90 L461.30,474.90 L461.80,474.90" stroke="#1f5a64" stroke-width="3.7" fill="none" stroke-linejoin="round"/>
<path d="M438.80,487.90 L439.30,487.90 L439.80,487.90 L440.30,487.90 L440.80,487.90 L441.30,487.90 L441.80,487.90 L442.30,487.90 L442.80,487.90 L443.30,487.80 L443.80,487.28 L444.30,486.77 L444.80,486.25 L445.30,485.73 L445.80,485.22 L446.30,484.70 L446.80,484.19 L447.30,483.67 L447.80,483.15 L448.30,482.64 L448.80,482.12 L449.30,481.61 L449.80,481.09 L450.30,480.57 L450.80,480.06 L451.30,479.54 L451.80,479.03 L452.30,478.51 L452.80,478.00 L453.30,477.48 L453.80,476.96 L454.30,476.45 L454.80,475.93 L455.30,475.42 L455.80,474.90 L456.30,474.90 L456.80,474.90 L457.30,474.90 L457.80,474.90 L458.30,474.90 L458.80,474.90 L459.30,474.90 L459.80,474.90 L460.30,474.90 L460.80,474.90 L461.30,474.90 L461.80,474.90" stroke="#4cbfcc" stroke-width="2.3" fill="none" stroke-linejoin="round"/>
<path d="M480.80,487.90 L481.30,487.59 L481.80,487.07 L482.30,486.56 L482.80,486.04 L483.30,485.53 L483.80,485.01 L484.30,484.50 L484.80,483.98 L485.30,483.46 L485.80,482.95 L486.30,482.43 L486.80,481.92 L487.30,481.40 L487.80,480.88 L488.30,480.37 L488.80,479.85 L489.30,479.34 L489.80,478.82 L490.30,478.30 L490.80,477.79 L491.30,477.27 L491.80,476.76 L492.30,476.24 L492.80,475.73 L493.30,475.21 L493.80,474.90 L494.30,474.90 L494.80,474.90 L495.30,474.90 L495.80,474.90 L496.30,474.90 L496.80,474.90 L497.30,474.90 L497.80,474.90 L498.30,474.90 L498.80,474.90 L499.30,474.90 L499.80,474.90" stroke="#1f5a64" stroke-width="3.7" fill="none" stroke-linejoin="round"/>
<path d="M480.80,487.90 L481.30,487.59 L481.80,487.07 L482.30,486.56 L482.80,486.04 L483.30,485.53 L483.80,485.01 L484.30,484.50 L484.80,483.98 L485.30,483.46 L485.80,482.95 L486.30,482.43 L486.80,481.92 L487.30,481.40 L487.80,480.88 L488.30,480.37 L488.80,479.85 L489.30,479.34 L489.80,478.82 L490.30,478.30 L490.80,477.79 L491.30,477.27 L491.80,476.76 L492.30,476.24 L492.80,475.73 L493.30,475.21 L493.80,474.90 L494.30,474.90 L494.80,474.90 L495.30,474.90 L495.80,474.90 L496.30,474.90 L496.80,474.90 L497.30,474.90 L497.80,474.90 L498.30,474.90 L498.80,474.90 L499.30,474.90 L499.80,474.90" stroke="#4cbfcc" stroke-width="2.3" fill="none" stroke-linejoin="round"/>
<path d="M518.80,487.90 L519.30,487.38 L519.80,486.87 L520.30,486.35 L520.80,485.84 L521.30,485.32 L521.80,484.80 L522.30,484.29 L522.80,483.77 L523.30,483.26 L523.80,482.74 L524.30,482.23 L524.80,481.71 L525.30,481.19 L525.80,480.68 L526.30,480.16 L526.80,479.65 L527.30,479.13 L527.80,478.61 L528.30,478.10 L528.80,477.58 L529.30,477.07 L529.80,476.55 L530.30,476.03 L530.80,475.52 L531.30,475.00 L531.80,474.90 L532.30,474.90 L532.80,474.90 L533.30,474.90 L533.80,474.90 L534.30,474.90 L534.80,474.90 L535.30,474.90 L535.80,474.90 L536.30,474.90 L536.80,474.90 L537.30,474.90" stroke="#1f5a64" stroke-width="3.7" fill="none" stroke-linejoin="round"/>
<path d="M518.80,487.90 L519.30,487.38 L519.80,486.87 L520.30,486.35 L520.80,485.84 L521.30,485.32 L521.80,484.80 L522.30,484.29 L522.80,483.77 L523.30,483.26 L523.80,482.74 L524.30,482.23 L524.80,481.71 L525.30,481.19 L525.80,480.68 L526.30,480.16 L526.80,479.65 L527.30,479.13 L527.80,478.61 L528.30,478.10 L528.80,477.58 L529.30,477.07 L529.80,476.55 L530.30,476.03 L530.80,475.52 L531.30,475.00 L531.80,474.90 L532.30,474.90 L532.80,474.90 L533.30,474.90 L533.80,474.90 L534.30,474.90 L534.80,474.90 L535.30,474.90 L535.80,474.90 L536.30,474.90 L536.80,474.90 L537.30,474.90" stroke="#4cbfcc" stroke-width="2.3" fill="none" stroke-linejoin="round"/>
<path d="M556.30,487.90 L556.80,487.69 L557.30,487.18 L557.80,486.66 L558.30,486.15 L558.80,485.63 L559.30,485.11 L559.80,484.60 L560.30,484.08 L560.80,483.57 L561.30,483.05 L561.80,482.53 L562.30,482.02 L562.80,481.50 L563.30,480.99 L563.80,480.47 L564.30,479.96 L564.80,479.44 L565.30,478.92 L565.80,478.41 L566.30,477.89 L566.80,477.38 L567.30,476.86 L567.80,476.34 L568.30,475.83 L568.80,475.31 L569.30,474.90 L569.80,474.90 L570.30,474.90 L570.80,474.90 L571.30,474.90 L571.80,474.90 L572.30,474.90 L572.80,474.90 L573.30,474.90 L573.80,474.90 L574.30,474.90 L574.80,474.90 L575.30,474.90" stroke="#1f5a64" stroke-width="3.7" fill="none" stroke-linejoin="round"/>
<path d="M556.30,487.90 L556.80,487.69 L557.30,487.18 L557.80,486.66 L558.30,486.15 L558.80,485.63 L559.30,485.11 L559.80,484.60 L560.30,484.08 L560.80,483.57 L561.30,483.05 L561.80,482.53 L562.30,482.02 L562.80,481.50 L563.30,480.99 L563.80,480.47 L564.30,479.96 L564.80,479.44 L565.30,478.92 L565.80,478.41 L566.30,477.89 L566.80,477.38 L567.30,476.86 L567.80,476.34 L568.30,475.83 L568.80,475.31 L569.30,474.90 L569.80,474.90 L570.30,474.90 L570.80,474.90 L571.30,474.90 L571.80,474.90 L572.30,474.90 L572.80,474.90 L573.30,474.90 L573.80,474.90 L574.30,474.90 L574.80,474.90 L575.30,474.90" stroke="#4cbfcc" stroke-width="2.3" fill="none" stroke-linejoin="round"/>
<path d="M594.30,487.90 L594.80,487.49 L595.30,486.97 L595.80,486.46 L596.30,485.94 L596.80,485.42 L597.30,484.91 L597.80,484.39 L598.30,483.88 L598.80,483.36 L599.30,482.84 L599.80,482.33 L600.30,481.81 L600.80,481.30 L601.30,480.78 L601.80,480.27 L602.30,479.75 L602.80,479.23 L603.30,478.72 L603.80,478.20 L604.30,477.69 L604.80,477.17 L605.30,476.65 L605.80,476.14 L606.30,475.62 L606.80,475.11 L607.30,474.90 L607.80,474.90 L608.30,474.90 L608.80,474.90 L609.30,474.90 L609.80,474.90 L610.30,474.90 L610.80,474.90 L611.30,474.90 L611.80,474.90 L612.30,474.90 L612.80,474.90 L613.30,474.90" stroke="#1f5a64" stroke-width="3.7" fill="none" stroke-linejoin="round"/>
<path d="M594.30,487.90 L594.80,487.49 L595.30,486.97 L595.80,486.46 L596.30,485.94 L596.80,485.42 L597.30,484.91 L597.80,484.39 L598.30,483.88 L598.80,483.36 L599.30,482.84 L599.80,482.33 L600.30,481.81 L600.80,481.30 L601.30,480.78 L601.80,480.27 L602.30,479.75 L602.80,479.23 L603.30,478.72 L603.80,478.20 L604.30,477.69 L604.80,477.17 L605.30,476.65 L605.80,476.14 L606.30,475.62 L606.80,475.11 L607.30,474.90 L607.80,474.90 L608.30,474.90 L608.80,474.90 L609.30,474.90 L609.80,474.90 L610.30,474.90 L610.80,474.90 L611.30,474.90 L611.80,474.90 L612.30,474.90 L612.80,474.90 L613.30,474.90" stroke="#4cbfcc" stroke-width="2.3" fill="none" stroke-linejoin="round"/>
<path d="M631.80,487.90 L632.30,487.80 L632.80,487.28 L633.30,486.77 L633.80,486.25 L634.30,485.73 L634.80,485.22 L635.30,484.70 L635.80,484.19 L636.30,483.67 L636.80,483.15 L637.30,482.64 L637.80,482.12 L638.30,481.61 L638.80,481.09 L639.30,480.57 L639.80,480.06 L640.30,479.54 L640.80,479.03 L641.30,478.51 L641.80,478.00 L642.30,477.48 L642.80,476.96 L643.30,476.45 L643.80,475.93 L644.30,475.42 L644.80,474.90 L645.30,474.90 L645.80,474.90 L646.30,474.90 L646.80,474.90 L647.30,474.90 L647.80,474.90 L648.30,474.90 L648.80,474.90 L649.30,474.90 L649.80,474.90 L650.30,474.90 L650.80,474.90" stroke="#1f5a64" stroke-width="3.7" fill="none" stroke-linejoin="round"/>
<path d="M631.80,487.90 L632.30,487.80 L632.80,487.28 L633.30,486.77 L633.80,486.25 L634.30,485.73 L634.80,485.22 L635.30,484.70 L635.80,484.19 L636.30,483.67 L636.80,483.15 L637.30,482.64 L637.80,482.12 L638.30,481.61 L638.80,481.09 L639.30,480.57 L639.80,480.06 L640.30,479.54 L640.80,479.03 L641.30,478.51 L641.80,478.00 L642.30,477.48 L642.80,476.96 L643.30,476.45 L643.80,475.93 L644.30,475.42 L644.80,474.90 L645.30,474.90 L645.80,474.90 L646.30,474.90 L646.80,474.90 L647.30,474.90 L647.80,474.90 L648.30,474.90 L648.80,474.90 L649.30,474.90 L649.80,474.90 L650.30,474.90 L650.80,474.90" stroke="#4cbfcc" stroke-width="2.3" fill="none" stroke-linejoin="round"/>
<text x="551.5" y="262.4" font-size="13.3" text-anchor="middle" font-weight="bold" font-style="normal" fill="#1e1e1e" stroke="#1e1e1e" stroke-width="0" >CSCs</text>
<text x="551.3" y="397.6" font-size="13.3" text-anchor="middle" font-weight="bold" font-style="normal" fill="#1e1e1e" stroke="#1e1e1e" stroke-width="0" >non-CSCs</text>
<polygon points="498.4,314.4 484.9,327.9 466.6,322.9 461.6,304.6 475.1,291.1 493.4,296.1" fill="#e2aa8c" stroke="none" stroke-width="1"/>
<line x1="492.7" y1="286.9" x2="492.7" y2="295.5" stroke="#111" stroke-width="1.8"/>
<text x="493" y="284" font-size="13.5" text-anchor="middle" font-weight="normal" font-style="normal" fill="#1e1e1e" stroke="#1e1e1e" stroke-width="0.25" >Ac</text>
<text x="480.2" y="312.7" font-size="13.5" text-anchor="middle" font-weight="normal" font-style="normal" fill="#2a140a" stroke="#2a140a" stroke-width="0.25" >Asp</text>
<path d="M499 296.3 L526 304.2" stroke="#111" stroke-width="1.8" stroke-dasharray="2.2,1.8" fill="none"/>
<path d="M531.4 306.2 L523 300.5 L524.5 306.8 Z" fill="#111"/>
<rect x="492.2" y="317" width="35.3" height="17.5" rx="8.75" fill="#d7141f" stroke="#3a0505" stroke-width="1"/>
<text x="509.7" y="330.2" font-size="13.5" text-anchor="middle" font-weight="normal" font-style="normal" fill="#fff" stroke="#fff" stroke-width="0.25" >p300</text>
<line x1="536.3" y1="300.8" x2="536.3" y2="310" stroke="#111" stroke-width="1.6"/>
<path d="M536.30,309.20 C542.88,309.20 545.70,317.73 545.70,330.72 C545.70,339.62 542.13,346.30 536.30,346.30 C530.47,346.30 526.90,339.62 526.90,330.72 C526.90,317.73 529.72,309.20 536.30,309.20 Z" fill="#1a1010"/>
<circle cx="536.3" cy="291.2" r="9.8" fill="#e0203c" stroke="#2a0a0a" stroke-width="1"/>
<text x="536.5" y="295.5" font-size="12" text-anchor="middle" font-weight="normal" font-style="normal" fill="#3a0808" stroke="#3a0808" stroke-width="0.25" >Ac</text>
<text x="536.6" y="334.5" font-size="13.2" text-anchor="middle" font-weight="normal" font-style="normal" fill="#f4f4f4" stroke="#f4f4f4" stroke-width="0" >H3</text>
<path d="M555 345.5 L555 321.8 L588 321.8" stroke="#111" stroke-width="1.8" fill="none"/>
<path d="M599 321.8 L583.6 317.3 L586.5 321.8 L583.6 326.3 Z" fill="#111"/>
<text x="565.5" y="339.6" font-size="13.2" text-anchor="start" font-weight="normal" font-style="normal" fill="#1e1e1e" stroke="#1e1e1e" stroke-width="0.25" ><tspan font-style="italic">FasL</tspan> promoter</text>
<polygon points="500.9,442.9 487.4,456.4 469.1,451.4 464.1,433.1 477.6,419.6 495.9,424.6" fill="#e2aa8c" stroke="none" stroke-width="1"/>
<line x1="494.6" y1="414.7" x2="494.6" y2="424.4" stroke="#111" stroke-width="1.8"/>
<text x="494.7" y="412.3" font-size="13.5" text-anchor="middle" font-weight="normal" font-style="normal" fill="#1e1e1e" stroke="#1e1e1e" stroke-width="0.25" >Ac</text>
<text x="481.5" y="442.2" font-size="13.5" text-anchor="middle" font-weight="normal" font-style="normal" fill="#2a140a" stroke="#2a140a" stroke-width="0.25" >Asp</text>
<rect x="427.3" y="426" width="35.5" height="18.6" rx="9.3" fill="#c8101e"/>
<text x="445" y="440" font-size="13.5" text-anchor="middle" font-weight="normal" font-style="normal" fill="#fff" stroke="#fff" stroke-width="0.25" >p300</text>
<line x1="538.2" y1="431.8" x2="538.2" y2="439" stroke="#111" stroke-width="1.6"/>
<path d="M538.60,438.20 C545.46,438.20 548.40,446.55 548.40,459.25 C548.40,467.97 544.68,474.50 538.60,474.50 C532.52,474.50 528.80,467.97 528.80,459.25 C528.80,446.55 531.74,438.20 538.60,438.20 Z" fill="#1a1010"/>
<polygon points="551.5,420.7 545.2,431.5 532.8,431.5 526.5,420.7 532.8,409.9 545.2,409.9" fill="#a3a3a3" stroke="#222" stroke-width="1"/>
<text x="538.2" y="425.5" font-size="12.5" text-anchor="middle" font-weight="normal" font-style="normal" fill="#222" stroke="#222" stroke-width="0.25" >Me</text>
<text x="538.7" y="463.6" font-size="13.2" text-anchor="middle" font-weight="normal" font-style="normal" fill="#f4f4f4" stroke="#f4f4f4" stroke-width="0" >H3</text>
<path d="M556.6 474.5 L556.6 450.5 L590 450.5" stroke="#111" stroke-width="1.8" fill="none"/>
<path d="M601 450.5 L586.4 446.4 L589 450.5 L586.4 455 Z" fill="#111"/>
<line x1="569" y1="444.5" x2="578.2" y2="456.7" stroke="#111" stroke-width="1.5"/>
<line x1="578.2" y1="444.5" x2="569" y2="456.7" stroke="#111" stroke-width="1.5"/>
<text x="564.5" y="470" font-size="13.2" text-anchor="start" font-weight="normal" font-style="normal" fill="#1e1e1e" stroke="#1e1e1e" stroke-width="0.25" ><tspan font-style="italic">FasL</tspan> promoter</text>
</svg></body></html>
